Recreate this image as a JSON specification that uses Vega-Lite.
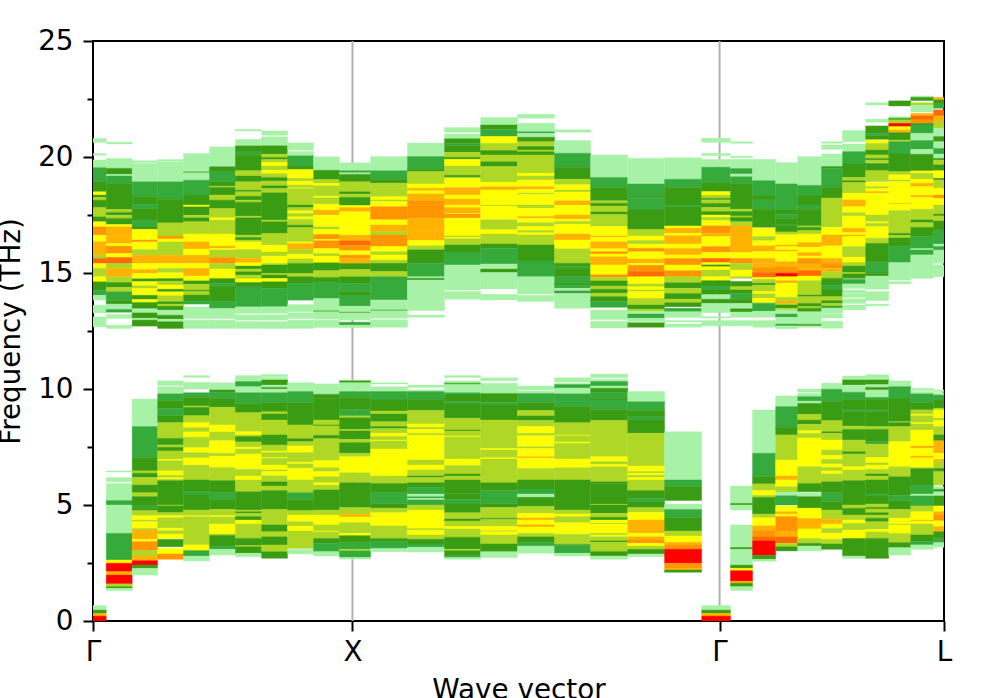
{"$schema":"https://vega.github.io/schema/vega-lite/v6.json","width":851,"height":580,"autosize":"none","padding":{"left":93,"top":41,"right":53,"bottom":77},"background":"white","view":{"stroke":"black","strokeWidth":2},
"datasets":{"cols":[{"c":0,"x0":0,"x1":0.051},{"c":1,"x0":0.051,"x1":0.151},{"c":2,"x0":0.151,"x1":0.249},{"c":3,"x0":0.249,"x1":0.349},{"c":4,"x0":0.349,"x1":0.449},{"c":5,"x0":0.449,"x1":0.549},{"c":6,"x0":0.549,"x1":0.65},{"c":7,"x0":0.65,"x1":0.75},{"c":8,"x0":0.75,"x1":0.85},{"c":9,"x0":0.85,"x1":0.95},{"c":10,"x0":0.95,"x1":1.07},{"c":11,"x0":1.07,"x1":1.212},{"c":12,"x0":1.212,"x1":1.355},{"c":13,"x0":1.355,"x1":1.494},{"c":14,"x0":1.494,"x1":1.636},{"c":15,"x0":1.636,"x1":1.779},{"c":16,"x0":1.779,"x1":1.918},{"c":17,"x0":1.918,"x1":2.061},{"c":18,"x0":2.061,"x1":2.203},{"c":19,"x0":2.203,"x1":2.346},{"c":20,"x0":2.346,"x1":2.457},{"c":21,"x0":2.457,"x1":2.542},{"c":22,"x0":2.542,"x1":2.631},{"c":23,"x0":2.631,"x1":2.716},{"c":24,"x0":2.716,"x1":2.808},{"c":25,"x0":2.808,"x1":2.889},{"c":26,"x0":2.889,"x1":2.978},{"c":27,"x0":2.978,"x1":3.067},{"c":28,"x0":3.067,"x1":3.152},{"c":29,"x0":3.152,"x1":3.24},{"c":30,"x0":3.24,"x1":3.28}],
"lines":[{"x":1},{"x":2.415}],
"cells":[
{"c":0,"t":20.8,"b":20.63,"k":"a"},{"c":0,"t":20.15,"b":20.07,"k":"a"},{"c":0,"t":19.87,"b":19.54,"k":"a"},{"c":0,"t":19.54,"b":18.93,"k":"b"},{"c":0,"t":18.93,"b":18.5,"k":"c"},{"c":0,"t":18.5,"b":18.36,"k":"e"},{"c":0,"t":18.36,"b":18.26,"k":"c"},{"c":0,"t":18.26,"b":18.14,"k":"d"},{"c":0,"t":18.14,"b":17.82,"k":"c"},{"c":0,"t":17.82,"b":17.42,"k":"d"},{"c":0,"t":17.42,"b":17.21,"k":"c"},{"c":0,"t":17.21,"b":16.99,"k":"e"},{"c":0,"t":16.99,"b":16.63,"k":"g"},{"c":0,"t":16.63,"b":16.35,"k":"e"},{"c":0,"t":16.35,"b":15.77,"k":"f"},{"c":0,"t":15.77,"b":15.63,"k":"d"},{"c":0,"t":15.63,"b":15.41,"k":"h"},{"c":0,"t":15.41,"b":15.2,"k":"e"},{"c":0,"t":15.2,"b":14.84,"k":"d"},{"c":0,"t":14.84,"b":14.62,"k":"e"},{"c":0,"t":14.62,"b":14.26,"k":"c"},{"c":0,"t":14.26,"b":14.04,"k":"b"},{"c":0,"t":14.04,"b":13.83,"k":"a"},{"c":0,"t":13.61,"b":13.28,"k":"a"},{"c":0,"t":13.11,"b":12.68,"k":"a"},
{"c":1,"t":20.64,"b":20.56,"k":"a"},{"c":1,"t":19.94,"b":19.51,"k":"a"},{"c":1,"t":19.51,"b":19.25,"k":"c"},{"c":1,"t":19.25,"b":19.18,"k":"a"},{"c":1,"t":19.18,"b":18.86,"k":"b"},{"c":1,"t":18.86,"b":17.74,"k":"c"},{"c":1,"t":17.74,"b":17.61,"k":"d"},{"c":1,"t":17.61,"b":17.49,"k":"c"},{"c":1,"t":17.49,"b":17.35,"k":"d"},{"c":1,"t":17.35,"b":17.09,"k":"c"},{"c":1,"t":17.09,"b":16.99,"k":"e"},{"c":1,"t":16.99,"b":16.56,"k":"f"},{"c":1,"t":16.56,"b":16.27,"k":"f"},{"c":1,"t":16.27,"b":16.16,"k":"e"},{"c":1,"t":16.16,"b":15.84,"k":"g"},{"c":1,"t":15.84,"b":15.67,"k":"e"},{"c":1,"t":15.67,"b":15.41,"k":"h"},{"c":1,"t":15.41,"b":15.2,"k":"d"},{"c":1,"t":15.2,"b":14.84,"k":"f"},{"c":1,"t":14.84,"b":14.59,"k":"d"},{"c":1,"t":14.59,"b":14.38,"k":"c"},{"c":1,"t":14.38,"b":14.19,"k":"d"},{"c":1,"t":14.19,"b":13.8,"k":"b"},{"c":1,"t":13.8,"b":13.66,"k":"c"},{"c":1,"t":13.66,"b":13.43,"k":"a"},{"c":1,"t":13.43,"b":13.31,"k":"b"},{"c":1,"t":13.21,"b":13.04,"k":"a"},{"c":1,"t":12.75,"b":12.61,"k":"a"},
{"c":2,"t":19.84,"b":19.75,"k":"a"},{"c":2,"t":19.72,"b":18.93,"k":"a"},{"c":2,"t":18.93,"b":18.31,"k":"b"},{"c":2,"t":18.31,"b":17.97,"k":"c"},{"c":2,"t":17.97,"b":17.78,"k":"b"},{"c":2,"t":17.78,"b":17.25,"k":"c"},{"c":2,"t":17.25,"b":17.02,"k":"b"},{"c":2,"t":17.02,"b":16.88,"k":"c"},{"c":2,"t":16.88,"b":16.42,"k":"e"},{"c":2,"t":16.42,"b":16.34,"k":"g"},{"c":2,"t":16.34,"b":16.01,"k":"e"},{"c":2,"t":16.01,"b":15.77,"k":"d"},{"c":2,"t":15.77,"b":15.41,"k":"f"},{"c":2,"t":15.41,"b":15.15,"k":"e"},{"c":2,"t":15.15,"b":14.98,"k":"f"},{"c":2,"t":14.98,"b":14.75,"k":"e"},{"c":2,"t":14.75,"b":14.63,"k":"c"},{"c":2,"t":14.63,"b":14.45,"k":"e"},{"c":2,"t":14.45,"b":14.33,"k":"d"},{"c":2,"t":14.33,"b":14.04,"k":"e"},{"c":2,"t":14.04,"b":13.86,"k":"c"},{"c":2,"t":13.86,"b":13.73,"k":"e"},{"c":2,"t":13.73,"b":13.46,"k":"c"},{"c":2,"t":13.46,"b":13.28,"k":"a"},{"c":2,"t":13.28,"b":13.05,"k":"c"},{"c":2,"t":13.05,"b":12.97,"k":"a"},{"c":2,"t":12.97,"b":12.71,"k":"c"},
{"c":3,"t":19.89,"b":19.82,"k":"a"},{"c":3,"t":19.79,"b":18.93,"k":"a"},{"c":3,"t":18.93,"b":18.18,"k":"b"},{"c":3,"t":18.18,"b":17.16,"k":"c"},{"c":3,"t":17.16,"b":16.59,"k":"d"},{"c":3,"t":16.59,"b":16.47,"k":"g"},{"c":3,"t":16.47,"b":16.34,"k":"e"},{"c":3,"t":16.34,"b":15.77,"k":"d"},{"c":3,"t":15.77,"b":15.41,"k":"f"},{"c":3,"t":15.41,"b":15.2,"k":"e"},{"c":3,"t":15.2,"b":15.01,"k":"d"},{"c":3,"t":15.01,"b":14.76,"k":"e"},{"c":3,"t":14.76,"b":14.65,"k":"c"},{"c":3,"t":14.65,"b":14.48,"k":"d"},{"c":3,"t":14.48,"b":14.3,"k":"e"},{"c":3,"t":14.3,"b":14.19,"k":"c"},{"c":3,"t":14.19,"b":14.02,"k":"e"},{"c":3,"t":14.02,"b":13.76,"k":"d"},{"c":3,"t":13.76,"b":13.66,"k":"c"},{"c":3,"t":13.66,"b":13.57,"k":"d"},{"c":3,"t":13.57,"b":13.4,"k":"c"},{"c":3,"t":13.4,"b":13.18,"k":"a"},{"c":3,"t":13.18,"b":13.01,"k":"c"},{"c":3,"t":13.01,"b":12.9,"k":"a"},{"c":3,"t":12.9,"b":12.61,"k":"c"},
{"c":4,"t":20.15,"b":19.36,"k":"a"},{"c":4,"t":19.36,"b":19.32,"k":"c"},{"c":4,"t":19.32,"b":19.0,"k":"a"},{"c":4,"t":19.0,"b":18.36,"k":"b"},{"c":4,"t":18.36,"b":17.93,"k":"c"},{"c":4,"t":17.93,"b":17.85,"k":"e"},{"c":4,"t":17.85,"b":17.49,"k":"c"},{"c":4,"t":17.49,"b":17.38,"k":"d"},{"c":4,"t":17.38,"b":17.21,"k":"c"},{"c":4,"t":17.21,"b":16.68,"k":"d"},{"c":4,"t":16.68,"b":16.34,"k":"e"},{"c":4,"t":16.34,"b":16.03,"k":"f"},{"c":4,"t":16.03,"b":15.77,"k":"e"},{"c":4,"t":15.77,"b":15.41,"k":"f"},{"c":4,"t":15.41,"b":15.2,"k":"e"},{"c":4,"t":15.2,"b":14.87,"k":"f"},{"c":4,"t":14.87,"b":14.66,"k":"e"},{"c":4,"t":14.66,"b":14.52,"k":"c"},{"c":4,"t":14.52,"b":14.26,"k":"d"},{"c":4,"t":14.26,"b":14.2,"k":"c"},{"c":4,"t":14.2,"b":14.05,"k":"d"},{"c":4,"t":14.05,"b":13.79,"k":"c"},{"c":4,"t":13.79,"b":13.66,"k":"b"},{"c":4,"t":13.54,"b":13.03,"k":"a"},{"c":4,"t":12.97,"b":12.61,"k":"a"},
{"c":5,"t":20.44,"b":19.58,"k":"a"},{"c":5,"t":19.58,"b":19.36,"k":"c"},{"c":5,"t":19.36,"b":18.93,"k":"b"},{"c":5,"t":18.93,"b":18.74,"k":"c"},{"c":5,"t":18.74,"b":18.69,"k":"d"},{"c":5,"t":18.69,"b":18.36,"k":"c"},{"c":5,"t":18.36,"b":18.14,"k":"d"},{"c":5,"t":18.14,"b":17.78,"k":"c"},{"c":5,"t":17.78,"b":17.38,"k":"d"},{"c":5,"t":17.38,"b":17.28,"k":"e"},{"c":5,"t":17.28,"b":16.68,"k":"d"},{"c":5,"t":16.68,"b":16.16,"k":"e"},{"c":5,"t":16.16,"b":16.06,"k":"f"},{"c":5,"t":16.06,"b":15.99,"k":"e"},{"c":5,"t":15.99,"b":15.67,"k":"d"},{"c":5,"t":15.67,"b":15.41,"k":"g"},{"c":5,"t":15.41,"b":15.17,"k":"d"},{"c":5,"t":15.17,"b":14.76,"k":"e"},{"c":5,"t":14.76,"b":14.55,"k":"c"},{"c":5,"t":14.55,"b":14.4,"k":"b"},{"c":5,"t":14.4,"b":13.79,"k":"c"},{"c":5,"t":13.79,"b":13.47,"k":"b"},{"c":5,"t":13.47,"b":13.03,"k":"a"},{"c":5,"t":12.97,"b":12.61,"k":"a"},
{"c":6,"t":21.19,"b":21.12,"k":"a"},{"c":6,"t":20.76,"b":20.48,"k":"a"},{"c":6,"t":20.48,"b":20.22,"k":"c"},{"c":6,"t":20.22,"b":20.08,"k":"b"},{"c":6,"t":20.08,"b":19.41,"k":"c"},{"c":6,"t":19.41,"b":19.18,"k":"d"},{"c":6,"t":19.18,"b":18.93,"k":"c"},{"c":6,"t":18.93,"b":18.57,"k":"d"},{"c":6,"t":18.57,"b":18.5,"k":"c"},{"c":6,"t":18.5,"b":18.31,"k":"d"},{"c":6,"t":18.31,"b":18.14,"k":"c"},{"c":6,"t":18.14,"b":18.05,"k":"d"},{"c":6,"t":18.05,"b":17.45,"k":"c"},{"c":6,"t":17.45,"b":17.38,"k":"d"},{"c":6,"t":17.38,"b":16.63,"k":"c"},{"c":6,"t":16.63,"b":16.53,"k":"d"},{"c":6,"t":16.53,"b":16.42,"k":"c"},{"c":6,"t":16.42,"b":16.34,"k":"d"},{"c":6,"t":16.34,"b":16.01,"k":"e"},{"c":6,"t":16.01,"b":15.63,"k":"d"},{"c":6,"t":15.63,"b":15.44,"k":"f"},{"c":6,"t":15.44,"b":15.3,"k":"e"},{"c":6,"t":15.3,"b":15.17,"k":"c"},{"c":6,"t":15.17,"b":15.05,"k":"d"},{"c":6,"t":15.05,"b":14.91,"k":"c"},{"c":6,"t":14.91,"b":14.75,"k":"d"},{"c":6,"t":14.75,"b":14.59,"k":"e"},{"c":6,"t":14.59,"b":14.4,"k":"c"},{"c":6,"t":14.4,"b":13.54,"k":"b"},{"c":6,"t":13.54,"b":13.26,"k":"a"},{"c":6,"t":13.2,"b":12.97,"k":"a"},{"c":6,"t":12.91,"b":12.61,"k":"a"},
{"c":7,"t":21.12,"b":20.94,"k":"a"},{"c":7,"t":20.87,"b":20.48,"k":"a"},{"c":7,"t":20.48,"b":20.12,"k":"c"},{"c":7,"t":20.12,"b":19.98,"k":"d"},{"c":7,"t":19.98,"b":19.89,"k":"c"},{"c":7,"t":19.89,"b":19.76,"k":"d"},{"c":7,"t":19.76,"b":19.61,"k":"e"},{"c":7,"t":19.61,"b":19.43,"k":"d"},{"c":7,"t":19.43,"b":19.29,"k":"e"},{"c":7,"t":19.29,"b":19.12,"k":"d"},{"c":7,"t":19.12,"b":18.97,"k":"c"},{"c":7,"t":18.97,"b":18.76,"k":"d"},{"c":7,"t":18.76,"b":18.64,"k":"c"},{"c":7,"t":18.64,"b":18.46,"k":"d"},{"c":7,"t":18.46,"b":17.28,"k":"c"},{"c":7,"t":17.28,"b":17.21,"k":"d"},{"c":7,"t":17.21,"b":16.7,"k":"c"},{"c":7,"t":16.7,"b":16.2,"k":"d"},{"c":7,"t":16.2,"b":15.91,"k":"e"},{"c":7,"t":15.91,"b":15.73,"k":"d"},{"c":7,"t":15.73,"b":15.41,"k":"e"},{"c":7,"t":15.41,"b":15.34,"k":"d"},{"c":7,"t":15.34,"b":14.98,"k":"c"},{"c":7,"t":14.98,"b":14.91,"k":"d"},{"c":7,"t":14.91,"b":14.76,"k":"c"},{"c":7,"t":14.76,"b":14.62,"k":"e"},{"c":7,"t":14.62,"b":14.33,"k":"c"},{"c":7,"t":14.33,"b":13.54,"k":"b"},{"c":7,"t":13.54,"b":13.26,"k":"a"},{"c":7,"t":13.2,"b":12.97,"k":"a"},{"c":7,"t":12.91,"b":12.61,"k":"a"},
{"c":8,"t":20.61,"b":20.3,"k":"a"},{"c":8,"t":20.24,"b":20.05,"k":"a"},{"c":8,"t":20.05,"b":19.61,"k":"b"},{"c":8,"t":19.61,"b":19.46,"k":"c"},{"c":8,"t":19.46,"b":19.08,"k":"e"},{"c":8,"t":19.08,"b":18.96,"k":"d"},{"c":8,"t":18.96,"b":18.79,"k":"e"},{"c":8,"t":18.79,"b":18.67,"k":"d"},{"c":8,"t":18.67,"b":18.64,"k":"e"},{"c":8,"t":18.64,"b":17.93,"k":"d"},{"c":8,"t":17.93,"b":17.82,"k":"c"},{"c":8,"t":17.82,"b":17.68,"k":"d"},{"c":8,"t":17.68,"b":17.57,"k":"e"},{"c":8,"t":17.57,"b":17.42,"k":"d"},{"c":8,"t":17.42,"b":17.32,"k":"e"},{"c":8,"t":17.32,"b":17.06,"k":"d"},{"c":8,"t":17.06,"b":16.96,"k":"c"},{"c":8,"t":16.96,"b":16.34,"k":"d"},{"c":8,"t":16.34,"b":16.27,"k":"e"},{"c":8,"t":16.27,"b":16.01,"k":"f"},{"c":8,"t":16.01,"b":15.81,"k":"d"},{"c":8,"t":15.81,"b":15.61,"k":"e"},{"c":8,"t":15.61,"b":15.41,"k":"d"},{"c":8,"t":15.41,"b":14.98,"k":"c"},{"c":8,"t":14.98,"b":14.84,"k":"d"},{"c":8,"t":14.84,"b":14.55,"k":"c"},{"c":8,"t":14.55,"b":13.83,"k":"b"},{"c":8,"t":13.64,"b":13.33,"k":"a"},{"c":8,"t":13.28,"b":13.04,"k":"a"},{"c":8,"t":12.97,"b":12.61,"k":"a"},
{"c":9,"t":20.01,"b":19.43,"k":"a"},{"c":9,"t":19.43,"b":19.03,"k":"c"},{"c":9,"t":19.03,"b":18.86,"k":"d"},{"c":9,"t":18.86,"b":18.76,"k":"e"},{"c":9,"t":18.76,"b":18.31,"k":"d"},{"c":9,"t":18.31,"b":18.24,"k":"e"},{"c":9,"t":18.24,"b":17.97,"k":"d"},{"c":9,"t":17.97,"b":17.71,"k":"e"},{"c":9,"t":17.71,"b":17.49,"k":"f"},{"c":9,"t":17.49,"b":16.99,"k":"e"},{"c":9,"t":16.99,"b":16.88,"k":"d"},{"c":9,"t":16.88,"b":16.66,"k":"e"},{"c":9,"t":16.66,"b":16.45,"k":"g"},{"c":9,"t":16.45,"b":16.39,"k":"e"},{"c":9,"t":16.39,"b":16.06,"k":"g"},{"c":9,"t":16.06,"b":15.84,"k":"e"},{"c":9,"t":15.84,"b":15.73,"k":"d"},{"c":9,"t":15.73,"b":15.44,"k":"e"},{"c":9,"t":15.44,"b":15.1,"k":"c"},{"c":9,"t":15.1,"b":14.81,"k":"d"},{"c":9,"t":14.81,"b":14.58,"k":"c"},{"c":9,"t":14.58,"b":13.9,"k":"b"},{"c":9,"t":13.9,"b":13.37,"k":"a"},{"c":9,"t":13.37,"b":13.33,"k":"c"},{"c":9,"t":13.33,"b":13.01,"k":"a"},{"c":9,"t":12.97,"b":12.65,"k":"a"},
{"c":10,"t":19.75,"b":19.41,"k":"a"},{"c":10,"t":19.41,"b":19.32,"k":"b"},{"c":10,"t":19.32,"b":19.25,"k":"a"},{"c":10,"t":19.25,"b":18.93,"k":"c"},{"c":10,"t":18.93,"b":18.5,"k":"d"},{"c":10,"t":18.5,"b":18.4,"k":"c"},{"c":10,"t":18.4,"b":18.26,"k":"d"},{"c":10,"t":18.26,"b":17.91,"k":"c"},{"c":10,"t":17.91,"b":17.82,"k":"e"},{"c":10,"t":17.82,"b":17.64,"k":"f"},{"c":10,"t":17.64,"b":16.63,"k":"e"},{"c":10,"t":16.63,"b":16.39,"k":"f"},{"c":10,"t":16.39,"b":16.2,"k":"h"},{"c":10,"t":16.2,"b":15.96,"k":"g"},{"c":10,"t":15.96,"b":15.77,"k":"e"},{"c":10,"t":15.77,"b":15.63,"k":"g"},{"c":10,"t":15.63,"b":15.41,"k":"f"},{"c":10,"t":15.41,"b":15.15,"k":"c"},{"c":10,"t":15.15,"b":14.84,"k":"d"},{"c":10,"t":14.84,"b":14.55,"k":"c"},{"c":10,"t":14.55,"b":14.19,"k":"b"},{"c":10,"t":14.19,"b":14.05,"k":"c"},{"c":10,"t":14.05,"b":13.57,"k":"b"},{"c":10,"t":13.57,"b":13.31,"k":"a"},{"c":10,"t":13.31,"b":13.28,"k":"c"},{"c":10,"t":13.28,"b":12.97,"k":"a"},{"c":10,"t":12.88,"b":12.75,"k":"b"},{"c":10,"t":12.75,"b":12.64,"k":"a"},
{"c":11,"t":20.02,"b":19.41,"k":"a"},{"c":11,"t":19.41,"b":19.04,"k":"b"},{"c":11,"t":19.04,"b":18.87,"k":"c"},{"c":11,"t":18.87,"b":18.65,"k":"d"},{"c":11,"t":18.65,"b":18.29,"k":"d"},{"c":11,"t":18.29,"b":18.15,"k":"e"},{"c":11,"t":18.15,"b":18.08,"k":"d"},{"c":11,"t":18.08,"b":17.86,"k":"e"},{"c":11,"t":17.86,"b":17.29,"k":"g"},{"c":11,"t":17.29,"b":17.07,"k":"e"},{"c":11,"t":17.07,"b":16.78,"k":"f"},{"c":11,"t":16.78,"b":16.64,"k":"d"},{"c":11,"t":16.64,"b":16.14,"k":"g"},{"c":11,"t":16.14,"b":15.92,"k":"e"},{"c":11,"t":15.92,"b":15.78,"k":"d"},{"c":11,"t":15.78,"b":15.56,"k":"e"},{"c":11,"t":15.56,"b":15.42,"k":"d"},{"c":11,"t":15.42,"b":15.06,"k":"c"},{"c":11,"t":15.06,"b":14.84,"k":"d"},{"c":11,"t":14.84,"b":13.84,"k":"b"},{"c":11,"t":13.84,"b":13.41,"k":"a"},{"c":11,"t":13.41,"b":13.37,"k":"c"},{"c":11,"t":13.37,"b":13.05,"k":"a"},{"c":11,"t":12.98,"b":12.66,"k":"a"},
{"c":12,"t":20.6,"b":20.52,"k":"a"},{"c":12,"t":20.52,"b":20.02,"k":"a"},{"c":12,"t":20.02,"b":19.47,"k":"b"},{"c":12,"t":19.47,"b":19.37,"k":"c"},{"c":12,"t":19.37,"b":18.84,"k":"d"},{"c":12,"t":18.84,"b":18.65,"k":"e"},{"c":12,"t":18.65,"b":18.55,"k":"f"},{"c":12,"t":18.55,"b":18.41,"k":"e"},{"c":12,"t":18.41,"b":18.11,"k":"f"},{"c":12,"t":18.11,"b":17.36,"k":"g"},{"c":12,"t":17.36,"b":16.78,"k":"f"},{"c":12,"t":16.78,"b":16.4,"k":"f"},{"c":12,"t":16.4,"b":16.17,"k":"e"},{"c":12,"t":16.17,"b":16.0,"k":"d"},{"c":12,"t":16.0,"b":15.42,"k":"c"},{"c":12,"t":15.42,"b":14.84,"k":"b"},{"c":12,"t":14.84,"b":14.77,"k":"a"},{"c":12,"t":14.77,"b":14.7,"k":"c"},{"c":12,"t":14.7,"b":13.38,"k":"a"},{"c":12,"t":13.19,"b":13.09,"k":"a"},
{"c":13,"t":21.27,"b":21.07,"k":"a"},{"c":13,"t":20.99,"b":20.79,"k":"a"},{"c":13,"t":20.79,"b":20.59,"k":"c"},{"c":13,"t":20.59,"b":20.5,"k":"b"},{"c":13,"t":20.5,"b":20.2,"k":"c"},{"c":13,"t":20.2,"b":19.99,"k":"d"},{"c":13,"t":19.99,"b":19.9,"k":"c"},{"c":13,"t":19.9,"b":19.61,"k":"e"},{"c":13,"t":19.61,"b":19.21,"k":"d"},{"c":13,"t":19.21,"b":19.13,"k":"c"},{"c":13,"t":19.13,"b":19.07,"k":"d"},{"c":13,"t":19.07,"b":18.68,"k":"e"},{"c":13,"t":18.68,"b":18.36,"k":"f"},{"c":13,"t":18.36,"b":18.19,"k":"e"},{"c":13,"t":18.19,"b":17.93,"k":"f"},{"c":13,"t":17.93,"b":17.82,"k":"e"},{"c":13,"t":17.82,"b":17.57,"k":"f"},{"c":13,"t":17.57,"b":17.54,"k":"e"},{"c":13,"t":17.54,"b":17.37,"k":"g"},{"c":13,"t":17.37,"b":16.6,"k":"e"},{"c":13,"t":16.6,"b":16.54,"k":"d"},{"c":13,"t":16.54,"b":16.48,"k":"e"},{"c":13,"t":16.48,"b":16.21,"k":"d"},{"c":13,"t":16.21,"b":15.91,"k":"c"},{"c":13,"t":15.91,"b":15.35,"k":"b"},{"c":13,"t":15.35,"b":14.27,"k":"a"},{"c":13,"t":14.2,"b":13.87,"k":"a"},
{"c":14,"t":21.7,"b":21.38,"k":"a"},{"c":14,"t":21.38,"b":21.2,"k":"c"},{"c":14,"t":21.2,"b":20.88,"k":"b"},{"c":14,"t":20.88,"b":20.59,"k":"e"},{"c":14,"t":20.59,"b":20.28,"k":"d"},{"c":14,"t":20.28,"b":20.09,"k":"c"},{"c":14,"t":20.09,"b":19.8,"k":"d"},{"c":14,"t":19.8,"b":19.59,"k":"c"},{"c":14,"t":19.59,"b":18.91,"k":"d"},{"c":14,"t":18.91,"b":18.72,"k":"e"},{"c":14,"t":18.72,"b":18.58,"k":"f"},{"c":14,"t":18.58,"b":17.93,"k":"e"},{"c":14,"t":17.93,"b":17.89,"k":"d"},{"c":14,"t":17.89,"b":17.29,"k":"e"},{"c":14,"t":17.29,"b":16.86,"k":"d"},{"c":14,"t":16.86,"b":16.68,"k":"e"},{"c":14,"t":16.68,"b":16.25,"k":"d"},{"c":14,"t":16.25,"b":16.07,"k":"c"},{"c":14,"t":16.07,"b":15.39,"k":"b"},{"c":14,"t":15.39,"b":15.17,"k":"a"},{"c":14,"t":15.17,"b":15.02,"k":"c"},{"c":14,"t":15.02,"b":14.31,"k":"a"},{"c":14,"t":14.08,"b":13.84,"k":"a"},
{"c":15,"t":21.84,"b":21.67,"k":"a"},{"c":15,"t":21.45,"b":21.09,"k":"a"},{"c":15,"t":21.09,"b":21.02,"k":"b"},{"c":15,"t":21.02,"b":20.85,"k":"a"},{"c":15,"t":20.85,"b":20.66,"k":"c"},{"c":15,"t":20.66,"b":20.45,"k":"d"},{"c":15,"t":20.45,"b":20.3,"k":"c"},{"c":15,"t":20.3,"b":20.23,"k":"d"},{"c":15,"t":20.23,"b":20.09,"k":"c"},{"c":15,"t":20.09,"b":19.3,"k":"d"},{"c":15,"t":19.3,"b":19.18,"k":"e"},{"c":15,"t":19.18,"b":19.01,"k":"d"},{"c":15,"t":19.01,"b":18.72,"k":"e"},{"c":15,"t":18.72,"b":18.61,"k":"f"},{"c":15,"t":18.61,"b":18.44,"k":"e"},{"c":15,"t":18.44,"b":18.38,"k":"d"},{"c":15,"t":18.38,"b":17.93,"k":"e"},{"c":15,"t":17.93,"b":17.79,"k":"d"},{"c":15,"t":17.79,"b":17.43,"k":"e"},{"c":15,"t":17.43,"b":17.36,"k":"f"},{"c":15,"t":17.36,"b":17.17,"k":"e"},{"c":15,"t":17.17,"b":17.0,"k":"d"},{"c":15,"t":17.0,"b":16.83,"k":"e"},{"c":15,"t":16.83,"b":16.74,"k":"d"},{"c":15,"t":16.74,"b":16.64,"k":"e"},{"c":15,"t":16.64,"b":16.21,"k":"d"},{"c":15,"t":16.21,"b":15.52,"k":"c"},{"c":15,"t":15.52,"b":14.84,"k":"b"},{"c":15,"t":14.84,"b":14.1,"k":"a"},{"c":15,"t":14.04,"b":13.77,"k":"a"},
{"c":16,"t":21.17,"b":21.07,"k":"a"},{"c":16,"t":20.71,"b":20.16,"k":"a"},{"c":16,"t":20.16,"b":19.56,"k":"b"},{"c":16,"t":19.56,"b":19.04,"k":"c"},{"c":16,"t":19.04,"b":18.8,"k":"d"},{"c":16,"t":18.8,"b":18.58,"k":"e"},{"c":16,"t":18.58,"b":18.49,"k":"d"},{"c":16,"t":18.49,"b":18.11,"k":"e"},{"c":16,"t":18.11,"b":17.92,"k":"f"},{"c":16,"t":17.92,"b":17.5,"k":"e"},{"c":16,"t":17.5,"b":17.32,"k":"f"},{"c":16,"t":17.32,"b":17.22,"k":"e"},{"c":16,"t":17.22,"b":17.11,"k":"d"},{"c":16,"t":17.11,"b":16.68,"k":"e"},{"c":16,"t":16.68,"b":16.42,"k":"f"},{"c":16,"t":16.42,"b":16.04,"k":"e"},{"c":16,"t":16.04,"b":15.42,"k":"d"},{"c":16,"t":15.42,"b":15.27,"k":"c"},{"c":16,"t":15.27,"b":15.2,"k":"b"},{"c":16,"t":15.2,"b":14.84,"k":"c"},{"c":16,"t":14.84,"b":14.53,"k":"b"},{"c":16,"t":14.53,"b":14.47,"k":"c"},{"c":16,"t":14.47,"b":14.34,"k":"b"},{"c":16,"t":14.34,"b":14.27,"k":"a"},{"c":16,"t":14.24,"b":14.13,"k":"b"},{"c":16,"t":14.1,"b":13.48,"k":"a"},
{"c":17,"t":20.09,"b":19.12,"k":"a"},{"c":17,"t":19.12,"b":18.69,"k":"b"},{"c":17,"t":18.69,"b":18.11,"k":"c"},{"c":17,"t":18.11,"b":18.01,"k":"d"},{"c":17,"t":18.01,"b":17.89,"k":"c"},{"c":17,"t":17.89,"b":17.63,"k":"d"},{"c":17,"t":17.63,"b":17.52,"k":"c"},{"c":17,"t":17.52,"b":17.0,"k":"d"},{"c":17,"t":17.0,"b":16.6,"k":"e"},{"c":17,"t":16.6,"b":16.54,"k":"f"},{"c":17,"t":16.54,"b":16.35,"k":"e"},{"c":17,"t":16.35,"b":16.04,"k":"f"},{"c":17,"t":16.04,"b":15.92,"k":"e"},{"c":17,"t":15.92,"b":15.82,"k":"g"},{"c":17,"t":15.82,"b":15.7,"k":"e"},{"c":17,"t":15.7,"b":15.35,"k":"f"},{"c":17,"t":15.35,"b":14.92,"k":"e"},{"c":17,"t":14.92,"b":14.81,"k":"g"},{"c":17,"t":14.81,"b":14.66,"k":"d"},{"c":17,"t":14.66,"b":14.44,"k":"c"},{"c":17,"t":14.44,"b":14.3,"k":"d"},{"c":17,"t":14.3,"b":14.13,"k":"c"},{"c":17,"t":14.13,"b":13.98,"k":"d"},{"c":17,"t":13.98,"b":13.77,"k":"c"},{"c":17,"t":13.77,"b":13.52,"k":"b"},{"c":17,"t":13.41,"b":13.0,"k":"a"},{"c":17,"t":12.92,"b":12.63,"k":"a"},
{"c":18,"t":19.95,"b":18.84,"k":"a"},{"c":18,"t":18.84,"b":18.26,"k":"b"},{"c":18,"t":18.26,"b":18.22,"k":"c"},{"c":18,"t":18.22,"b":17.72,"k":"b"},{"c":18,"t":17.72,"b":16.88,"k":"c"},{"c":18,"t":16.88,"b":16.6,"k":"d"},{"c":18,"t":16.6,"b":16.4,"k":"e"},{"c":18,"t":16.4,"b":16.25,"k":"d"},{"c":18,"t":16.25,"b":16.07,"k":"e"},{"c":18,"t":16.07,"b":15.92,"k":"g"},{"c":18,"t":15.92,"b":15.6,"k":"e"},{"c":18,"t":15.6,"b":15.42,"k":"f"},{"c":18,"t":15.42,"b":15.33,"k":"e"},{"c":18,"t":15.33,"b":15.06,"k":"g"},{"c":18,"t":15.06,"b":14.84,"k":"h"},{"c":18,"t":14.84,"b":14.53,"k":"e"},{"c":18,"t":14.53,"b":14.41,"k":"d"},{"c":18,"t":14.41,"b":14.27,"k":"e"},{"c":18,"t":14.27,"b":14.2,"k":"d"},{"c":18,"t":14.2,"b":13.91,"k":"e"},{"c":18,"t":13.91,"b":13.62,"k":"d"},{"c":18,"t":13.62,"b":13.44,"k":"c"},{"c":18,"t":13.44,"b":13.34,"k":"d"},{"c":18,"t":13.34,"b":13.23,"k":"a"},{"c":18,"t":13.23,"b":13.05,"k":"b"},{"c":18,"t":13.05,"b":12.9,"k":"a"},{"c":18,"t":12.86,"b":12.66,"k":"c"},
{"c":19,"t":19.97,"b":19.04,"k":"a"},{"c":19,"t":19.04,"b":18.69,"k":"b"},{"c":19,"t":18.69,"b":18.36,"k":"c"},{"c":19,"t":18.36,"b":17.93,"k":"c"},{"c":19,"t":17.93,"b":17.86,"k":"b"},{"c":19,"t":17.86,"b":17.03,"k":"c"},{"c":19,"t":17.03,"b":16.93,"k":"e"},{"c":19,"t":16.93,"b":16.71,"k":"f"},{"c":19,"t":16.71,"b":16.61,"k":"e"},{"c":19,"t":16.61,"b":16.25,"k":"f"},{"c":19,"t":16.25,"b":16.06,"k":"e"},{"c":19,"t":16.06,"b":15.78,"k":"f"},{"c":19,"t":15.78,"b":15.63,"k":"e"},{"c":19,"t":15.63,"b":15.35,"k":"g"},{"c":19,"t":15.35,"b":15.1,"k":"e"},{"c":19,"t":15.1,"b":14.84,"k":"g"},{"c":19,"t":14.84,"b":14.58,"k":"d"},{"c":19,"t":14.58,"b":14.34,"k":"c"},{"c":19,"t":14.34,"b":14.12,"k":"d"},{"c":19,"t":14.12,"b":13.87,"k":"c"},{"c":19,"t":13.87,"b":13.72,"k":"d"},{"c":19,"t":13.72,"b":13.55,"k":"c"},{"c":19,"t":13.48,"b":13.33,"k":"b"},{"c":19,"t":13.33,"b":13.08,"k":"a"},{"c":19,"t":12.95,"b":12.89,"k":"a"},{"c":19,"t":12.8,"b":12.66,"k":"a"},
{"c":20,"t":20.81,"b":20.63,"k":"a"},{"c":20,"t":20.16,"b":20.06,"k":"a"},{"c":20,"t":19.9,"b":19.56,"k":"a"},{"c":20,"t":19.56,"b":18.9,"k":"b"},{"c":20,"t":18.9,"b":18.51,"k":"c"},{"c":20,"t":18.51,"b":18.36,"k":"e"},{"c":20,"t":18.36,"b":18.22,"k":"d"},{"c":20,"t":18.22,"b":18.15,"k":"c"},{"c":20,"t":18.15,"b":18.0,"k":"d"},{"c":20,"t":18.0,"b":17.83,"k":"c"},{"c":20,"t":17.83,"b":17.65,"k":"d"},{"c":20,"t":17.65,"b":17.5,"k":"c"},{"c":20,"t":17.5,"b":17.4,"k":"e"},{"c":20,"t":17.4,"b":17.26,"k":"d"},{"c":20,"t":17.26,"b":17.03,"k":"e"},{"c":20,"t":17.03,"b":16.71,"k":"g"},{"c":20,"t":16.71,"b":16.57,"k":"f"},{"c":20,"t":16.57,"b":16.14,"k":"e"},{"c":20,"t":16.14,"b":15.89,"k":"g"},{"c":20,"t":15.89,"b":15.63,"k":"e"},{"c":20,"t":15.63,"b":15.45,"k":"h"},{"c":20,"t":15.45,"b":15.35,"k":"e"},{"c":20,"t":15.35,"b":15.27,"k":"c"},{"c":20,"t":15.27,"b":15.13,"k":"e"},{"c":20,"t":15.13,"b":14.84,"k":"d"},{"c":20,"t":14.84,"b":14.67,"k":"e"},{"c":20,"t":14.67,"b":14.44,"k":"c"},{"c":20,"t":14.44,"b":14.27,"k":"b"},{"c":20,"t":14.27,"b":14.07,"k":"c"},{"c":20,"t":14.07,"b":13.87,"k":"a"},{"c":20,"t":13.87,"b":13.69,"k":"c"},{"c":20,"t":13.69,"b":13.29,"k":"a"},{"c":20,"t":13.12,"b":13.06,"k":"a"},{"c":20,"t":12.95,"b":12.72,"k":"a"},
{"c":21,"t":20.66,"b":20.59,"k":"a"},{"c":21,"t":20.04,"b":19.97,"k":"a"},{"c":21,"t":19.9,"b":19.5,"k":"a"},{"c":21,"t":19.5,"b":19.27,"k":"b"},{"c":21,"t":19.27,"b":19.15,"k":"a"},{"c":21,"t":19.15,"b":18.84,"k":"b"},{"c":21,"t":18.84,"b":17.75,"k":"c"},{"c":21,"t":17.75,"b":17.65,"k":"d"},{"c":21,"t":17.65,"b":17.46,"k":"c"},{"c":21,"t":17.46,"b":17.4,"k":"d"},{"c":21,"t":17.4,"b":17.21,"k":"c"},{"c":21,"t":17.21,"b":17.03,"k":"d"},{"c":21,"t":17.03,"b":15.88,"k":"f"},{"c":21,"t":15.88,"b":15.63,"k":"e"},{"c":21,"t":15.63,"b":15.42,"k":"g"},{"c":21,"t":15.42,"b":15.13,"k":"d"},{"c":21,"t":15.13,"b":14.84,"k":"e"},{"c":21,"t":14.84,"b":14.77,"k":"d"},{"c":21,"t":14.64,"b":14.41,"k":"c"},{"c":21,"t":14.41,"b":14.27,"k":"d"},{"c":21,"t":14.27,"b":14.12,"k":"c"},{"c":21,"t":14.12,"b":13.87,"k":"b"},{"c":21,"t":13.87,"b":13.69,"k":"c"},{"c":21,"t":13.69,"b":13.46,"k":"a"},{"c":21,"t":13.46,"b":13.32,"k":"c"},{"c":21,"t":13.32,"b":13.09,"k":"a"},{"c":21,"t":12.95,"b":12.72,"k":"a"},
{"c":22,"t":19.9,"b":18.98,"k":"a"},{"c":22,"t":18.98,"b":18.32,"k":"b"},{"c":22,"t":18.32,"b":18.15,"k":"c"},{"c":22,"t":18.15,"b":17.75,"k":"b"},{"c":22,"t":17.75,"b":16.97,"k":"c"},{"c":22,"t":16.93,"b":16.57,"k":"e"},{"c":22,"t":16.57,"b":16.39,"k":"d"},{"c":22,"t":16.39,"b":16.17,"k":"e"},{"c":22,"t":16.17,"b":15.92,"k":"f"},{"c":22,"t":15.92,"b":15.63,"k":"e"},{"c":22,"t":15.63,"b":15.42,"k":"f"},{"c":22,"t":15.42,"b":15.24,"k":"f"},{"c":22,"t":15.24,"b":15.02,"k":"g"},{"c":22,"t":15.02,"b":14.81,"k":"h"},{"c":22,"t":14.81,"b":14.73,"k":"e"},{"c":22,"t":14.73,"b":14.56,"k":"d"},{"c":22,"t":14.56,"b":14.48,"k":"c"},{"c":22,"t":14.48,"b":14.2,"k":"d"},{"c":22,"t":14.2,"b":14.1,"k":"e"},{"c":22,"t":14.1,"b":13.91,"k":"d"},{"c":22,"t":13.91,"b":13.72,"k":"e"},{"c":22,"t":13.72,"b":13.69,"k":"d"},{"c":22,"t":13.69,"b":13.35,"k":"b"},{"c":22,"t":13.35,"b":13.09,"k":"a"},{"c":22,"t":12.95,"b":12.66,"k":"a"},
{"c":23,"t":19.76,"b":18.84,"k":"a"},{"c":23,"t":18.84,"b":17.72,"k":"b"},{"c":23,"t":17.72,"b":17.54,"k":"c"},{"c":23,"t":17.54,"b":17.36,"k":"b"},{"c":23,"t":17.36,"b":17.11,"k":"c"},{"c":23,"t":17.11,"b":17.06,"k":"b"},{"c":23,"t":17.06,"b":16.77,"k":"c"},{"c":23,"t":16.77,"b":16.65,"k":"d"},{"c":23,"t":16.65,"b":16.21,"k":"e"},{"c":23,"t":16.21,"b":16.14,"k":"f"},{"c":23,"t":16.14,"b":15.99,"k":"e"},{"c":23,"t":15.99,"b":15.92,"k":"f"},{"c":23,"t":15.92,"b":15.49,"k":"e"},{"c":23,"t":15.49,"b":15.27,"k":"f"},{"c":23,"t":15.27,"b":14.99,"k":"g"},{"c":23,"t":14.99,"b":14.84,"k":"r"},{"c":23,"t":14.84,"b":14.67,"k":"e"},{"c":23,"t":14.67,"b":14.56,"k":"f"},{"c":23,"t":14.56,"b":13.95,"k":"e"},{"c":23,"t":13.95,"b":13.81,"k":"d"},{"c":23,"t":13.81,"b":13.69,"k":"f"},{"c":23,"t":13.69,"b":13.62,"k":"d"},{"c":23,"t":13.62,"b":13.48,"k":"c"},{"c":23,"t":13.48,"b":13.41,"k":"d"},{"c":23,"t":13.41,"b":13.23,"k":"a"},{"c":23,"t":13.23,"b":13.09,"k":"b"},{"c":23,"t":13.09,"b":12.8,"k":"a"},{"c":23,"t":12.8,"b":12.72,"k":"b"},{"c":23,"t":12.72,"b":12.6,"k":"a"},
{"c":24,"t":20.02,"b":18.78,"k":"a"},{"c":24,"t":18.78,"b":18.32,"k":"b"},{"c":24,"t":18.32,"b":17.93,"k":"c"},{"c":24,"t":17.93,"b":17.75,"k":"b"},{"c":24,"t":17.75,"b":17.03,"k":"c"},{"c":24,"t":17.03,"b":16.97,"k":"d"},{"c":24,"t":16.97,"b":16.83,"k":"c"},{"c":24,"t":16.83,"b":16.68,"k":"d"},{"c":24,"t":16.68,"b":16.31,"k":"e"},{"c":24,"t":16.31,"b":16.11,"k":"f"},{"c":24,"t":16.11,"b":15.88,"k":"e"},{"c":24,"t":15.88,"b":15.73,"k":"f"},{"c":24,"t":15.73,"b":15.63,"k":"e"},{"c":24,"t":15.63,"b":15.39,"k":"g"},{"c":24,"t":15.39,"b":15.1,"k":"f"},{"c":24,"t":15.1,"b":14.87,"k":"h"},{"c":24,"t":14.87,"b":14.67,"k":"e"},{"c":24,"t":14.67,"b":14.05,"k":"d"},{"c":24,"t":14.05,"b":13.98,"k":"c"},{"c":24,"t":13.98,"b":13.69,"k":"d"},{"c":24,"t":13.69,"b":13.55,"k":"c"},{"c":24,"t":13.55,"b":13.48,"k":"d"},{"c":24,"t":13.48,"b":13.33,"k":"c"},{"c":24,"t":13.33,"b":12.79,"k":"a"},{"c":24,"t":12.79,"b":12.72,"k":"c"},{"c":24,"t":12.72,"b":12.66,"k":"a"},
{"c":25,"t":20.66,"b":20.59,"k":"a"},{"c":25,"t":20.52,"b":20.33,"k":"a"},{"c":25,"t":20.13,"b":19.59,"k":"a"},{"c":25,"t":19.59,"b":19.52,"k":"c"},{"c":25,"t":19.52,"b":18.69,"k":"b"},{"c":25,"t":18.69,"b":18.23,"k":"c"},{"c":25,"t":18.23,"b":16.97,"k":"d"},{"c":25,"t":16.97,"b":16.64,"k":"e"},{"c":25,"t":16.64,"b":16.17,"k":"f"},{"c":25,"t":16.17,"b":15.63,"k":"e"},{"c":25,"t":15.63,"b":15.42,"k":"f"},{"c":25,"t":15.42,"b":15.2,"k":"g"},{"c":25,"t":15.2,"b":15.06,"k":"f"},{"c":25,"t":15.06,"b":14.77,"k":"d"},{"c":25,"t":14.77,"b":14.48,"k":"c"},{"c":25,"t":14.48,"b":14.27,"k":"b"},{"c":25,"t":14.27,"b":13.98,"k":"c"},{"c":25,"t":13.98,"b":13.81,"k":"d"},{"c":25,"t":13.81,"b":13.69,"k":"c"},{"c":25,"t":13.69,"b":13.58,"k":"d"},{"c":25,"t":13.58,"b":13.49,"k":"b"},{"c":25,"t":13.49,"b":13.26,"k":"a"},{"c":25,"t":13.23,"b":13.06,"k":"a"},{"c":25,"t":12.92,"b":12.62,"k":"a"},
{"c":26,"t":21.14,"b":20.66,"k":"a"},{"c":26,"t":20.56,"b":20.23,"k":"a"},{"c":26,"t":20.23,"b":19.7,"k":"b"},{"c":26,"t":19.7,"b":19.12,"k":"c"},{"c":26,"t":19.12,"b":18.98,"k":"d"},{"c":26,"t":18.98,"b":18.9,"k":"c"},{"c":26,"t":18.9,"b":18.44,"k":"d"},{"c":26,"t":18.44,"b":18.15,"k":"e"},{"c":26,"t":18.15,"b":17.86,"k":"f"},{"c":26,"t":17.86,"b":17.6,"k":"e"},{"c":26,"t":17.6,"b":17.46,"k":"d"},{"c":26,"t":17.46,"b":16.93,"k":"e"},{"c":26,"t":16.93,"b":16.75,"k":"f"},{"c":26,"t":16.75,"b":16.64,"k":"e"},{"c":26,"t":16.64,"b":16.57,"k":"f"},{"c":26,"t":16.57,"b":16.14,"k":"e"},{"c":26,"t":16.14,"b":15.68,"k":"d"},{"c":26,"t":15.68,"b":15.45,"k":"e"},{"c":26,"t":15.45,"b":15.3,"k":"d"},{"c":26,"t":15.3,"b":15.02,"k":"c"},{"c":26,"t":15.02,"b":14.96,"k":"d"},{"c":26,"t":14.96,"b":14.77,"k":"c"},{"c":26,"t":14.73,"b":14.53,"k":"b"},{"c":26,"t":14.53,"b":14.33,"k":"a"},{"c":26,"t":14.27,"b":14.12,"k":"a"},{"c":26,"t":14.1,"b":13.95,"k":"a"},{"c":26,"t":13.89,"b":13.69,"k":"a"},{"c":26,"t":13.62,"b":13.41,"k":"a"},
{"c":27,"t":22.34,"b":22.24,"k":"a"},{"c":27,"t":21.63,"b":21.5,"k":"a"},{"c":27,"t":21.34,"b":21.02,"k":"c"},{"c":27,"t":21.02,"b":20.92,"k":"b"},{"c":27,"t":20.92,"b":20.76,"k":"c"},{"c":27,"t":20.73,"b":20.59,"k":"e"},{"c":27,"t":20.59,"b":20.3,"k":"d"},{"c":27,"t":20.3,"b":20.09,"k":"c"},{"c":27,"t":20.09,"b":19.94,"k":"d"},{"c":27,"t":19.94,"b":19.87,"k":"c"},{"c":27,"t":19.87,"b":19.76,"k":"d"},{"c":27,"t":19.73,"b":19.41,"k":"c"},{"c":27,"t":19.41,"b":18.94,"k":"d"},{"c":27,"t":18.9,"b":18.72,"k":"e"},{"c":27,"t":18.72,"b":18.64,"k":"d"},{"c":27,"t":18.64,"b":18.51,"k":"e"},{"c":27,"t":18.51,"b":18.44,"k":"f"},{"c":27,"t":18.44,"b":17.5,"k":"e"},{"c":27,"t":17.5,"b":17.21,"k":"d"},{"c":27,"t":17.21,"b":17.14,"k":"e"},{"c":27,"t":17.14,"b":17.0,"k":"d"},{"c":27,"t":17.0,"b":16.5,"k":"e"},{"c":27,"t":16.5,"b":16.28,"k":"d"},{"c":27,"t":16.28,"b":15.45,"k":"c"},{"c":27,"t":15.45,"b":14.99,"k":"b"},{"c":27,"t":14.99,"b":14.87,"k":"c"},{"c":27,"t":14.87,"b":14.3,"k":"a"},{"c":27,"t":14.2,"b":13.81,"k":"a"},{"c":27,"t":13.66,"b":13.58,"k":"a"},
{"c":28,"t":22.42,"b":22.2,"k":"c"},{"c":28,"t":21.74,"b":21.67,"k":"a"},{"c":28,"t":21.67,"b":21.6,"k":"c"},{"c":28,"t":21.6,"b":21.45,"k":"d"},{"c":28,"t":21.45,"b":21.31,"k":"r"},{"c":28,"t":21.31,"b":21.17,"k":"e"},{"c":28,"t":21.17,"b":21.05,"k":"f"},{"c":28,"t":21.05,"b":20.73,"k":"c"},{"c":28,"t":20.73,"b":20.66,"k":"d"},{"c":28,"t":20.66,"b":20.13,"k":"b"},{"c":28,"t":20.13,"b":19.37,"k":"c"},{"c":28,"t":19.37,"b":19.23,"k":"d"},{"c":28,"t":19.23,"b":19.01,"k":"e"},{"c":28,"t":19.01,"b":18.94,"k":"d"},{"c":28,"t":18.94,"b":18.0,"k":"e"},{"c":28,"t":18.0,"b":17.97,"k":"f"},{"c":28,"t":17.97,"b":17.69,"k":"e"},{"c":28,"t":17.69,"b":16.71,"k":"d"},{"c":28,"t":16.71,"b":16.62,"k":"c"},{"c":28,"t":16.62,"b":16.51,"k":"d"},{"c":28,"t":16.51,"b":16.16,"k":"c"},{"c":28,"t":16.16,"b":15.45,"k":"b"},{"c":28,"t":15.45,"b":14.7,"k":"a"},{"c":28,"t":14.63,"b":14.53,"k":"a"},
{"c":29,"t":22.63,"b":22.57,"k":"a"},{"c":29,"t":22.57,"b":22.43,"k":"c"},{"c":29,"t":22.34,"b":22.23,"k":"d"},{"c":29,"t":22.23,"b":21.94,"k":"a"},{"c":29,"t":21.88,"b":21.77,"k":"f"},{"c":29,"t":21.77,"b":21.6,"k":"h"},{"c":29,"t":21.6,"b":21.45,"k":"g"},{"c":29,"t":21.45,"b":21.38,"k":"c"},{"c":29,"t":21.38,"b":21.02,"k":"b"},{"c":29,"t":21.02,"b":20.71,"k":"a"},{"c":29,"t":20.71,"b":20.33,"k":"b"},{"c":29,"t":20.33,"b":20.12,"k":"a"},{"c":29,"t":20.12,"b":19.4,"k":"c"},{"c":29,"t":19.4,"b":19.3,"k":"e"},{"c":29,"t":19.3,"b":19.04,"k":"d"},{"c":29,"t":19.04,"b":18.87,"k":"e"},{"c":29,"t":18.87,"b":18.72,"k":"f"},{"c":29,"t":18.72,"b":18.35,"k":"e"},{"c":29,"t":18.35,"b":18.26,"k":"f"},{"c":29,"t":18.26,"b":17.75,"k":"e"},{"c":29,"t":17.75,"b":17.29,"k":"d"},{"c":29,"t":17.29,"b":17.17,"k":"c"},{"c":29,"t":17.17,"b":16.97,"k":"d"},{"c":29,"t":16.97,"b":16.57,"k":"c"},{"c":29,"t":16.57,"b":16.05,"k":"b"},{"c":29,"t":16.05,"b":15.99,"k":"a"},{"c":29,"t":15.99,"b":15.78,"k":"b"},{"c":29,"t":15.78,"b":14.77,"k":"a"},
{"c":30,"t":22.57,"b":22.46,"k":"f"},{"c":30,"t":22.46,"b":22.29,"k":"c"},{"c":30,"t":22.29,"b":22.1,"k":"b"},{"c":30,"t":22.03,"b":21.77,"k":"h"},{"c":30,"t":21.77,"b":21.52,"k":"f"},{"c":30,"t":21.52,"b":21.24,"k":"d"},{"c":30,"t":21.24,"b":20.88,"k":"a"},{"c":30,"t":20.88,"b":20.66,"k":"c"},{"c":30,"t":20.66,"b":20.37,"k":"a"},{"c":30,"t":20.37,"b":20.13,"k":"b"},{"c":30,"t":20.13,"b":19.94,"k":"a"},{"c":30,"t":19.94,"b":19.87,"k":"c"},{"c":30,"t":19.87,"b":19.66,"k":"d"},{"c":30,"t":19.66,"b":19.41,"k":"c"},{"c":30,"t":19.41,"b":19.08,"k":"e"},{"c":30,"t":19.08,"b":19.01,"k":"c"},{"c":30,"t":19.01,"b":18.65,"k":"d"},{"c":30,"t":18.65,"b":18.36,"k":"e"},{"c":30,"t":18.36,"b":18.22,"k":"g"},{"c":30,"t":18.22,"b":17.93,"k":"e"},{"c":30,"t":17.93,"b":17.54,"k":"d"},{"c":30,"t":17.54,"b":17.46,"k":"c"},{"c":30,"t":17.46,"b":17.24,"k":"d"},{"c":30,"t":17.24,"b":16.85,"k":"c"},{"c":30,"t":16.85,"b":16.25,"k":"b"},{"c":30,"t":16.25,"b":16.14,"k":"a"},{"c":30,"t":16.14,"b":15.99,"k":"b"},{"c":30,"t":15.99,"b":15.42,"k":"a"},{"c":30,"t":15.35,"b":14.84,"k":"a"},
{"c":0,"t":0.67,"b":0.47,"k":"a"},{"c":0,"t":0.47,"b":0.33,"k":"c"},{"c":0,"t":0.33,"b":0.21,"k":"f"},{"c":0,"t":0.21,"b":0,"k":"r"},
{"c":1,"t":6.47,"b":6.42,"k":"a"},{"c":1,"t":6.18,"b":6.0,"k":"a"},{"c":1,"t":5.93,"b":5.19,"k":"a"},{"c":1,"t":5.19,"b":5.0,"k":"b"},{"c":1,"t":5.0,"b":3.78,"k":"a"},{"c":1,"t":3.78,"b":2.63,"k":"b"},{"c":1,"t":2.63,"b":2.49,"k":"e"},{"c":1,"t":2.49,"b":2.13,"k":"r"},{"c":1,"t":2.13,"b":1.98,"k":"f"},{"c":1,"t":1.98,"b":1.6,"k":"r"},{"c":1,"t":1.6,"b":1.48,"k":"d"},{"c":1,"t":1.48,"b":1.41,"k":"c"},{"c":1,"t":1.41,"b":1.31,"k":"a"},
{"c":2,"t":9.57,"b":8.38,"k":"a"},{"c":2,"t":8.38,"b":7.05,"k":"b"},{"c":2,"t":7.05,"b":6.47,"k":"c"},{"c":2,"t":6.47,"b":6.37,"k":"d"},{"c":2,"t":6.37,"b":6.19,"k":"c"},{"c":2,"t":6.19,"b":5.86,"k":"d"},{"c":2,"t":5.86,"b":5.53,"k":"c"},{"c":2,"t":5.53,"b":5.36,"k":"d"},{"c":2,"t":5.36,"b":4.96,"k":"c"},{"c":2,"t":4.96,"b":4.86,"k":"b"},{"c":2,"t":4.86,"b":4.76,"k":"c"},{"c":2,"t":4.76,"b":4.54,"k":"d"},{"c":2,"t":4.54,"b":4.35,"k":"e"},{"c":2,"t":4.35,"b":4.28,"k":"d"},{"c":2,"t":4.28,"b":3.99,"k":"e"},{"c":2,"t":3.99,"b":3.92,"k":"d"},{"c":2,"t":3.92,"b":3.52,"k":"f"},{"c":2,"t":3.52,"b":3.42,"k":"e"},{"c":2,"t":3.42,"b":3.03,"k":"g"},{"c":2,"t":3.03,"b":2.8,"k":"d"},{"c":2,"t":2.8,"b":2.6,"k":"f"},{"c":2,"t":2.6,"b":2.41,"k":"r"},{"c":2,"t":2.41,"b":2.27,"k":"c"},{"c":2,"t":2.27,"b":1.98,"k":"a"},
{"c":3,"t":10.35,"b":10.15,"k":"a"},{"c":3,"t":10.1,"b":9.79,"k":"a"},{"c":3,"t":9.79,"b":9.5,"k":"b"},{"c":3,"t":9.5,"b":9.17,"k":"c"},{"c":3,"t":9.17,"b":8.85,"k":"b"},{"c":3,"t":8.85,"b":8.55,"k":"c"},{"c":3,"t":8.55,"b":7.87,"k":"d"},{"c":3,"t":7.87,"b":7.59,"k":"c"},{"c":3,"t":7.59,"b":7.49,"k":"d"},{"c":3,"t":7.49,"b":7.33,"k":"c"},{"c":3,"t":7.33,"b":6.97,"k":"d"},{"c":3,"t":6.97,"b":6.91,"k":"e"},{"c":3,"t":6.91,"b":6.47,"k":"d"},{"c":3,"t":6.47,"b":6.28,"k":"e"},{"c":3,"t":6.28,"b":6.18,"k":"d"},{"c":3,"t":6.18,"b":6.11,"k":"e"},{"c":3,"t":6.11,"b":6.05,"k":"d"},{"c":3,"t":6.05,"b":5.0,"k":"c"},{"c":3,"t":5.0,"b":4.96,"k":"d"},{"c":3,"t":4.96,"b":4.67,"k":"c"},{"c":3,"t":4.67,"b":4.54,"k":"d"},{"c":3,"t":4.54,"b":4.45,"k":"e"},{"c":3,"t":4.45,"b":4.0,"k":"d"},{"c":3,"t":4.0,"b":3.89,"k":"e"},{"c":3,"t":3.89,"b":3.75,"k":"d"},{"c":3,"t":3.75,"b":3.56,"k":"e"},{"c":3,"t":3.52,"b":3.2,"k":"c"},{"c":3,"t":3.13,"b":2.89,"k":"e"},{"c":3,"t":2.89,"b":2.66,"k":"g"},
{"c":4,"t":10.58,"b":10.5,"k":"a"},{"c":4,"t":10.29,"b":9.99,"k":"a"},{"c":4,"t":9.84,"b":9.64,"k":"b"},{"c":4,"t":9.64,"b":9.27,"k":"c"},{"c":4,"t":9.27,"b":9.21,"k":"d"},{"c":4,"t":9.21,"b":8.85,"k":"c"},{"c":4,"t":8.85,"b":8.55,"k":"d"},{"c":4,"t":8.55,"b":8.33,"k":"e"},{"c":4,"t":8.33,"b":8.15,"k":"d"},{"c":4,"t":8.15,"b":7.92,"k":"e"},{"c":4,"t":7.92,"b":7.47,"k":"d"},{"c":4,"t":7.47,"b":7.26,"k":"e"},{"c":4,"t":7.26,"b":7.03,"k":"d"},{"c":4,"t":7.03,"b":6.72,"k":"e"},{"c":4,"t":6.72,"b":6.08,"k":"d"},{"c":4,"t":6.08,"b":5.57,"k":"c"},{"c":4,"t":5.57,"b":5.43,"k":"b"},{"c":4,"t":5.43,"b":4.78,"k":"c"},{"c":4,"t":4.78,"b":4.54,"k":"d"},{"c":4,"t":4.54,"b":4.5,"k":"e"},{"c":4,"t":4.5,"b":3.28,"k":"d"},{"c":4,"t":3.28,"b":3.06,"k":"e"},{"c":4,"t":3.06,"b":3.02,"k":"d"},{"c":4,"t":3.02,"b":2.8,"k":"b"},{"c":4,"t":2.8,"b":2.59,"k":"a"},
{"c":5,"t":10.27,"b":9.96,"k":"a"},{"c":5,"t":9.96,"b":9.84,"k":"c"},{"c":5,"t":9.84,"b":9.6,"k":"b"},{"c":5,"t":9.6,"b":9.21,"k":"c"},{"c":5,"t":9.21,"b":8.45,"k":"d"},{"c":5,"t":8.45,"b":8.15,"k":"e"},{"c":5,"t":8.15,"b":7.77,"k":"d"},{"c":5,"t":7.77,"b":7.23,"k":"e"},{"c":5,"t":7.23,"b":7.11,"k":"d"},{"c":5,"t":7.11,"b":6.91,"k":"e"},{"c":5,"t":6.91,"b":6.61,"k":"e"},{"c":5,"t":6.61,"b":6.05,"k":"d"},{"c":5,"t":6.05,"b":5.53,"k":"c"},{"c":5,"t":5.53,"b":5.22,"k":"b"},{"c":5,"t":5.22,"b":4.81,"k":"c"},{"c":5,"t":4.81,"b":4.54,"k":"d"},{"c":5,"t":4.54,"b":4.48,"k":"e"},{"c":5,"t":4.48,"b":4.18,"k":"d"},{"c":5,"t":4.18,"b":3.75,"k":"e"},{"c":5,"t":3.75,"b":3.69,"k":"d"},{"c":5,"t":3.69,"b":3.23,"k":"c"},{"c":5,"t":3.23,"b":3.09,"k":"b"},{"c":5,"t":3.09,"b":2.84,"k":"a"},
{"c":6,"t":10.58,"b":10.32,"k":"a"},{"c":6,"t":10.32,"b":10.1,"k":"b"},{"c":6,"t":10.1,"b":9.84,"k":"a"},{"c":6,"t":9.84,"b":9.38,"k":"b"},{"c":6,"t":9.38,"b":8.98,"k":"c"},{"c":6,"t":8.98,"b":8.16,"k":"d"},{"c":6,"t":8.16,"b":8.02,"k":"e"},{"c":6,"t":8.02,"b":7.95,"k":"d"},{"c":6,"t":7.95,"b":7.72,"k":"c"},{"c":6,"t":7.72,"b":7.49,"k":"d"},{"c":6,"t":7.49,"b":7.41,"k":"e"},{"c":6,"t":7.41,"b":7.2,"k":"d"},{"c":6,"t":7.2,"b":6.54,"k":"e"},{"c":6,"t":6.54,"b":6.25,"k":"d"},{"c":6,"t":6.25,"b":6.08,"k":"e"},{"c":6,"t":6.08,"b":5.57,"k":"d"},{"c":6,"t":5.57,"b":4.78,"k":"c"},{"c":6,"t":4.78,"b":4.71,"k":"d"},{"c":6,"t":4.71,"b":4.64,"k":"c"},{"c":6,"t":4.64,"b":4.5,"k":"d"},{"c":6,"t":4.5,"b":4.35,"k":"c"},{"c":6,"t":4.35,"b":4.18,"k":"e"},{"c":6,"t":4.18,"b":3.56,"k":"d"},{"c":6,"t":3.56,"b":3.25,"k":"c"},{"c":6,"t":3.25,"b":3.2,"k":"d"},{"c":6,"t":3.2,"b":2.92,"k":"c"},{"c":6,"t":2.92,"b":2.77,"k":"a"},
{"c":7,"t":10.62,"b":10.53,"k":"a"},{"c":7,"t":10.5,"b":10.39,"k":"a"},{"c":7,"t":10.39,"b":10.17,"k":"c"},{"c":7,"t":10.17,"b":10.07,"k":"a"},{"c":7,"t":10.07,"b":10.0,"k":"c"},{"c":7,"t":10.0,"b":9.84,"k":"a"},{"c":7,"t":9.84,"b":9.41,"k":"b"},{"c":7,"t":9.41,"b":9.02,"k":"c"},{"c":7,"t":9.02,"b":8.92,"k":"d"},{"c":7,"t":8.92,"b":8.66,"k":"c"},{"c":7,"t":8.66,"b":8.02,"k":"d"},{"c":7,"t":8.02,"b":7.59,"k":"c"},{"c":7,"t":7.59,"b":7.33,"k":"d"},{"c":7,"t":7.33,"b":7.26,"k":"e"},{"c":7,"t":7.26,"b":7.05,"k":"d"},{"c":7,"t":7.05,"b":7.01,"k":"e"},{"c":7,"t":7.01,"b":6.72,"k":"d"},{"c":7,"t":6.72,"b":6.51,"k":"e"},{"c":7,"t":6.51,"b":6.44,"k":"d"},{"c":7,"t":6.44,"b":6.26,"k":"e"},{"c":7,"t":6.26,"b":6.0,"k":"d"},{"c":7,"t":6.0,"b":5.82,"k":"c"},{"c":7,"t":5.82,"b":5.62,"k":"d"},{"c":7,"t":5.62,"b":4.81,"k":"c"},{"c":7,"t":4.81,"b":4.57,"k":"d"},{"c":7,"t":4.57,"b":4.14,"k":"d"},{"c":7,"t":4.14,"b":3.85,"k":"c"},{"c":7,"t":3.85,"b":3.63,"k":"d"},{"c":7,"t":3.63,"b":3.28,"k":"c"},{"c":7,"t":3.28,"b":2.99,"k":"d"},{"c":7,"t":2.99,"b":2.7,"k":"c"},
{"c":8,"t":10.27,"b":9.89,"k":"a"},{"c":8,"t":9.89,"b":9.41,"k":"b"},{"c":8,"t":9.41,"b":8.45,"k":"c"},{"c":8,"t":8.45,"b":7.86,"k":"d"},{"c":8,"t":7.86,"b":7.73,"k":"c"},{"c":8,"t":7.73,"b":7.54,"k":"d"},{"c":8,"t":7.54,"b":7.26,"k":"e"},{"c":8,"t":7.26,"b":6.85,"k":"d"},{"c":8,"t":6.85,"b":6.77,"k":"e"},{"c":8,"t":6.77,"b":6.58,"k":"d"},{"c":8,"t":6.58,"b":6.08,"k":"e"},{"c":8,"t":6.08,"b":5.53,"k":"d"},{"c":8,"t":5.53,"b":5.24,"k":"b"},{"c":8,"t":5.24,"b":4.76,"k":"c"},{"c":8,"t":4.76,"b":4.57,"k":"d"},{"c":8,"t":4.57,"b":4.28,"k":"e"},{"c":8,"t":4.28,"b":4.09,"k":"d"},{"c":8,"t":4.09,"b":3.88,"k":"e"},{"c":8,"t":3.88,"b":3.13,"k":"d"},{"c":8,"t":3.09,"b":2.89,"k":"a"},
{"c":9,"t":10.22,"b":9.77,"k":"a"},{"c":9,"t":9.77,"b":9.6,"k":"c"},{"c":9,"t":9.6,"b":8.66,"k":"c"},{"c":9,"t":8.66,"b":8.45,"k":"d"},{"c":9,"t":8.45,"b":8.41,"k":"c"},{"c":9,"t":8.41,"b":8.0,"k":"d"},{"c":9,"t":8.0,"b":7.86,"k":"c"},{"c":9,"t":7.86,"b":6.91,"k":"d"},{"c":9,"t":6.91,"b":6.61,"k":"e"},{"c":9,"t":6.61,"b":6.44,"k":"d"},{"c":9,"t":6.44,"b":6.22,"k":"e"},{"c":9,"t":6.22,"b":5.96,"k":"d"},{"c":9,"t":5.96,"b":5.86,"k":"e"},{"c":9,"t":5.86,"b":5.65,"k":"d"},{"c":9,"t":5.65,"b":4.78,"k":"c"},{"c":9,"t":4.78,"b":4.57,"k":"d"},{"c":9,"t":4.57,"b":4.14,"k":"e"},{"c":9,"t":4.14,"b":3.88,"k":"d"},{"c":9,"t":3.88,"b":3.84,"k":"e"},{"c":9,"t":3.84,"b":3.56,"k":"d"},{"c":9,"t":3.56,"b":3.35,"k":"c"},{"c":9,"t":3.35,"b":2.99,"k":"b"},{"c":9,"t":2.99,"b":2.8,"k":"a"},
{"c":10,"t":10.39,"b":10.35,"k":"a"},{"c":10,"t":10.35,"b":10.27,"k":"c"},{"c":10,"t":10.27,"b":9.89,"k":"a"},{"c":10,"t":9.89,"b":9.64,"k":"b"},{"c":10,"t":9.64,"b":9.12,"k":"c"},{"c":10,"t":9.12,"b":8.84,"k":"b"},{"c":10,"t":8.84,"b":8.76,"k":"d"},{"c":10,"t":8.76,"b":8.26,"k":"c"},{"c":10,"t":8.26,"b":8.19,"k":"d"},{"c":10,"t":8.19,"b":7.83,"k":"c"},{"c":10,"t":7.83,"b":7.69,"k":"d"},{"c":10,"t":7.69,"b":7.23,"k":"c"},{"c":10,"t":7.23,"b":7.08,"k":"d"},{"c":10,"t":7.08,"b":6.39,"k":"e"},{"c":10,"t":6.39,"b":5.96,"k":"d"},{"c":10,"t":5.96,"b":4.89,"k":"c"},{"c":10,"t":4.89,"b":4.6,"k":"d"},{"c":10,"t":4.6,"b":4.48,"k":"f"},{"c":10,"t":4.48,"b":4.24,"k":"e"},{"c":10,"t":4.24,"b":3.78,"k":"d"},{"c":10,"t":3.78,"b":3.68,"k":"e"},{"c":10,"t":3.68,"b":3.38,"k":"c"},{"c":10,"t":3.38,"b":3.09,"k":"b"},{"c":10,"t":3.09,"b":3.02,"k":"d"},{"c":10,"t":3.02,"b":2.74,"k":"b"},{"c":10,"t":2.74,"b":2.67,"k":"a"},
{"c":11,"t":10.27,"b":10.22,"k":"a"},{"c":11,"t":10.1,"b":9.89,"k":"a"},{"c":11,"t":9.89,"b":9.53,"k":"b"},{"c":11,"t":9.53,"b":9.05,"k":"c"},{"c":11,"t":9.05,"b":8.92,"k":"d"},{"c":11,"t":8.92,"b":8.59,"k":"c"},{"c":11,"t":8.59,"b":8.38,"k":"d"},{"c":11,"t":8.38,"b":8.3,"k":"c"},{"c":11,"t":8.3,"b":8.09,"k":"d"},{"c":11,"t":8.09,"b":7.95,"k":"e"},{"c":11,"t":7.95,"b":7.8,"k":"d"},{"c":11,"t":7.8,"b":7.76,"k":"e"},{"c":11,"t":7.76,"b":7.41,"k":"d"},{"c":11,"t":7.41,"b":6.25,"k":"e"},{"c":11,"t":6.25,"b":5.93,"k":"d"},{"c":11,"t":5.93,"b":5.53,"k":"c"},{"c":11,"t":5.53,"b":5.07,"k":"b"},{"c":11,"t":5.07,"b":4.86,"k":"c"},{"c":11,"t":4.86,"b":4.67,"k":"d"},{"c":11,"t":4.67,"b":4.1,"k":"e"},{"c":11,"t":4.1,"b":3.56,"k":"d"},{"c":11,"t":3.56,"b":3.42,"k":"c"},{"c":11,"t":3.42,"b":3.13,"k":"b"},{"c":11,"t":3.13,"b":2.99,"k":"a"},
{"c":12,"t":10.17,"b":10.07,"k":"a"},{"c":12,"t":9.96,"b":9.89,"k":"a"},{"c":12,"t":9.89,"b":9.56,"k":"b"},{"c":12,"t":9.56,"b":9.07,"k":"c"},{"c":12,"t":9.07,"b":8.49,"k":"d"},{"c":12,"t":8.49,"b":8.35,"k":"e"},{"c":12,"t":8.35,"b":8.26,"k":"d"},{"c":12,"t":8.26,"b":8.09,"k":"e"},{"c":12,"t":8.09,"b":8.02,"k":"d"},{"c":12,"t":8.02,"b":6.94,"k":"e"},{"c":12,"t":6.94,"b":6.72,"k":"d"},{"c":12,"t":6.72,"b":6.51,"k":"e"},{"c":12,"t":6.51,"b":6.25,"k":"d"},{"c":12,"t":6.25,"b":6.19,"k":"c"},{"c":12,"t":6.19,"b":5.96,"k":"d"},{"c":12,"t":5.96,"b":5.76,"k":"c"},{"c":12,"t":5.76,"b":5.47,"k":"b"},{"c":12,"t":5.47,"b":5.36,"k":"a"},{"c":12,"t":5.36,"b":5.29,"k":"b"},{"c":12,"t":5.29,"b":5.22,"k":"a"},{"c":12,"t":5.22,"b":5.0,"k":"b"},{"c":12,"t":5.0,"b":4.78,"k":"d"},{"c":12,"t":4.78,"b":3.99,"k":"e"},{"c":12,"t":3.99,"b":3.92,"k":"d"},{"c":12,"t":3.92,"b":3.71,"k":"e"},{"c":12,"t":3.71,"b":3.52,"k":"d"},{"c":12,"t":3.52,"b":3.32,"k":"c"},{"c":12,"t":3.32,"b":3.18,"k":"b"},{"c":12,"t":3.18,"b":2.97,"k":"a"},
{"c":13,"t":10.58,"b":10.5,"k":"a"},{"c":13,"t":10.35,"b":10.25,"k":"a"},{"c":13,"t":10.25,"b":10.19,"k":"c"},{"c":13,"t":10.19,"b":9.84,"k":"a"},{"c":13,"t":9.84,"b":9.74,"k":"b"},{"c":13,"t":9.74,"b":9.45,"k":"c"},{"c":13,"t":9.45,"b":9.35,"k":"b"},{"c":13,"t":9.35,"b":8.74,"k":"c"},{"c":13,"t":8.74,"b":8.23,"k":"d"},{"c":13,"t":8.23,"b":8.19,"k":"c"},{"c":13,"t":8.19,"b":7.97,"k":"d"},{"c":13,"t":7.97,"b":7.93,"k":"e"},{"c":13,"t":7.93,"b":6.98,"k":"d"},{"c":13,"t":6.98,"b":6.7,"k":"e"},{"c":13,"t":6.7,"b":6.34,"k":"d"},{"c":13,"t":6.34,"b":6.25,"k":"c"},{"c":13,"t":6.25,"b":6.08,"k":"d"},{"c":13,"t":6.08,"b":5.5,"k":"c"},{"c":13,"t":5.5,"b":5.47,"k":"b"},{"c":13,"t":5.47,"b":5.24,"k":"c"},{"c":13,"t":5.24,"b":5.04,"k":"b"},{"c":13,"t":5.04,"b":4.67,"k":"c"},{"c":13,"t":4.67,"b":4.4,"k":"d"},{"c":13,"t":4.4,"b":4.31,"k":"c"},{"c":13,"t":4.31,"b":4.07,"k":"d"},{"c":13,"t":4.07,"b":3.97,"k":"e"},{"c":13,"t":3.97,"b":3.61,"k":"d"},{"c":13,"t":3.61,"b":3.09,"k":"c"},{"c":13,"t":3.09,"b":3.03,"k":"d"},{"c":13,"t":3.03,"b":2.84,"k":"c"},{"c":13,"t":2.84,"b":2.74,"k":"b"},{"c":13,"t":2.74,"b":2.66,"k":"a"},
{"c":14,"t":10.48,"b":10.36,"k":"a"},{"c":14,"t":10.25,"b":9.81,"k":"a"},{"c":14,"t":9.81,"b":9.42,"k":"c"},{"c":14,"t":9.42,"b":9.31,"k":"b"},{"c":14,"t":9.31,"b":8.66,"k":"c"},{"c":14,"t":8.66,"b":7.43,"k":"d"},{"c":14,"t":7.43,"b":7.37,"k":"e"},{"c":14,"t":7.37,"b":7.04,"k":"d"},{"c":14,"t":7.04,"b":6.98,"k":"e"},{"c":14,"t":6.98,"b":5.96,"k":"d"},{"c":14,"t":5.96,"b":5.62,"k":"c"},{"c":14,"t":5.62,"b":5.07,"k":"b"},{"c":14,"t":5.07,"b":4.89,"k":"c"},{"c":14,"t":4.89,"b":4.43,"k":"d"},{"c":14,"t":4.43,"b":4.38,"k":"c"},{"c":14,"t":4.38,"b":4.07,"k":"d"},{"c":14,"t":4.07,"b":3.89,"k":"e"},{"c":14,"t":3.89,"b":3.85,"k":"d"},{"c":14,"t":3.85,"b":3.71,"k":"e"},{"c":14,"t":3.71,"b":3.32,"k":"d"},{"c":14,"t":3.32,"b":2.99,"k":"c"},{"c":14,"t":2.99,"b":2.74,"k":"a"},
{"c":15,"t":10.13,"b":9.96,"k":"a"},{"c":15,"t":9.91,"b":9.81,"k":"a"},{"c":15,"t":9.81,"b":9.41,"k":"b"},{"c":15,"t":9.41,"b":9.07,"k":"c"},{"c":15,"t":9.07,"b":8.84,"k":"d"},{"c":15,"t":8.84,"b":8.64,"k":"c"},{"c":15,"t":8.64,"b":8.38,"k":"d"},{"c":15,"t":8.38,"b":8.09,"k":"e"},{"c":15,"t":8.09,"b":7.99,"k":"d"},{"c":15,"t":7.99,"b":7.51,"k":"e"},{"c":15,"t":7.51,"b":7.44,"k":"d"},{"c":15,"t":7.44,"b":7.08,"k":"e"},{"c":15,"t":7.08,"b":7.03,"k":"f"},{"c":15,"t":7.03,"b":6.57,"k":"e"},{"c":15,"t":6.57,"b":6.08,"k":"d"},{"c":15,"t":6.08,"b":5.69,"k":"c"},{"c":15,"t":5.69,"b":5.47,"k":"b"},{"c":15,"t":5.47,"b":5.33,"k":"a"},{"c":15,"t":5.33,"b":4.93,"k":"c"},{"c":15,"t":4.93,"b":4.64,"k":"d"},{"c":15,"t":4.64,"b":4.44,"k":"e"},{"c":15,"t":4.44,"b":4.35,"k":"f"},{"c":15,"t":4.35,"b":4.15,"k":"e"},{"c":15,"t":4.15,"b":4.05,"k":"f"},{"c":15,"t":4.05,"b":3.78,"k":"e"},{"c":15,"t":3.78,"b":3.63,"k":"d"},{"c":15,"t":3.63,"b":3.38,"k":"c"},{"c":15,"t":3.38,"b":3.23,"k":"b"},{"c":15,"t":3.23,"b":2.92,"k":"a"},
{"c":16,"t":10.48,"b":10.3,"k":"a"},{"c":16,"t":10.25,"b":10.19,"k":"a"},{"c":16,"t":10.19,"b":10.04,"k":"b"},{"c":16,"t":10.04,"b":9.79,"k":"a"},{"c":16,"t":9.79,"b":9.53,"k":"b"},{"c":16,"t":9.53,"b":9.24,"k":"b"},{"c":16,"t":9.24,"b":8.55,"k":"c"},{"c":16,"t":8.55,"b":8.02,"k":"d"},{"c":16,"t":8.02,"b":7.98,"k":"e"},{"c":16,"t":7.98,"b":7.72,"k":"d"},{"c":16,"t":7.72,"b":7.66,"k":"e"},{"c":16,"t":7.66,"b":6.98,"k":"d"},{"c":16,"t":6.98,"b":6.61,"k":"e"},{"c":16,"t":6.61,"b":6.08,"k":"d"},{"c":16,"t":6.08,"b":4.78,"k":"c"},{"c":16,"t":4.78,"b":4.61,"k":"d"},{"c":16,"t":4.61,"b":4.5,"k":"e"},{"c":16,"t":4.5,"b":4.24,"k":"d"},{"c":16,"t":4.24,"b":3.74,"k":"e"},{"c":16,"t":3.74,"b":3.3,"k":"d"},{"c":16,"t":3.3,"b":3.25,"k":"c"},{"c":16,"t":3.25,"b":2.92,"k":"b"},{"c":16,"t":2.92,"b":2.8,"k":"a"},
{"c":17,"t":10.65,"b":10.48,"k":"a"},{"c":17,"t":10.42,"b":10.32,"k":"a"},{"c":17,"t":10.32,"b":10.13,"k":"b"},{"c":17,"t":10.13,"b":10.03,"k":"a"},{"c":17,"t":10.03,"b":9.84,"k":"c"},{"c":17,"t":9.84,"b":9.6,"k":"b"},{"c":17,"t":9.6,"b":9.53,"k":"c"},{"c":17,"t":9.53,"b":9.12,"k":"b"},{"c":17,"t":9.12,"b":8.64,"k":"c"},{"c":17,"t":8.64,"b":7.08,"k":"d"},{"c":17,"t":7.08,"b":6.87,"k":"e"},{"c":17,"t":6.87,"b":6.75,"k":"d"},{"c":17,"t":6.75,"b":6.65,"k":"e"},{"c":17,"t":6.65,"b":6.0,"k":"d"},{"c":17,"t":6.0,"b":5.93,"k":"c"},{"c":17,"t":5.93,"b":5.03,"k":"c"},{"c":17,"t":5.03,"b":5.0,"k":"d"},{"c":17,"t":5.0,"b":4.64,"k":"c"},{"c":17,"t":4.64,"b":4.47,"k":"d"},{"c":17,"t":4.47,"b":4.35,"k":"c"},{"c":17,"t":4.35,"b":4.21,"k":"e"},{"c":17,"t":4.21,"b":4.17,"k":"d"},{"c":17,"t":4.17,"b":3.78,"k":"e"},{"c":17,"t":3.78,"b":3.71,"k":"d"},{"c":17,"t":3.71,"b":3.63,"k":"e"},{"c":17,"t":3.63,"b":3.46,"k":"d"},{"c":17,"t":3.46,"b":3.4,"k":"c"},{"c":17,"t":3.4,"b":3.0,"k":"d"},{"c":17,"t":3.0,"b":2.8,"k":"c"},{"c":17,"t":2.8,"b":2.66,"k":"a"},
{"c":18,"t":9.89,"b":9.45,"k":"a"},{"c":18,"t":9.45,"b":9.07,"k":"b"},{"c":18,"t":9.07,"b":8.84,"k":"c"},{"c":18,"t":8.84,"b":8.69,"k":"b"},{"c":18,"t":8.69,"b":8.09,"k":"c"},{"c":18,"t":8.09,"b":6.68,"k":"d"},{"c":18,"t":6.68,"b":6.44,"k":"e"},{"c":18,"t":6.44,"b":6.37,"k":"d"},{"c":18,"t":6.37,"b":6.28,"k":"e"},{"c":18,"t":6.28,"b":6.19,"k":"d"},{"c":18,"t":6.19,"b":6.08,"k":"e"},{"c":18,"t":6.08,"b":5.62,"k":"d"},{"c":18,"t":5.62,"b":5.29,"k":"c"},{"c":18,"t":5.29,"b":5.14,"k":"b"},{"c":18,"t":5.14,"b":4.89,"k":"c"},{"c":18,"t":4.89,"b":4.68,"k":"d"},{"c":18,"t":4.68,"b":4.35,"k":"e"},{"c":18,"t":4.35,"b":3.78,"k":"f"},{"c":18,"t":3.78,"b":3.63,"k":"e"},{"c":18,"t":3.63,"b":3.49,"k":"f"},{"c":18,"t":3.49,"b":3.35,"k":"g"},{"c":18,"t":3.35,"b":3.23,"k":"e"},{"c":18,"t":3.23,"b":3.09,"k":"d"},{"c":18,"t":3.09,"b":2.89,"k":"c"},{"c":18,"t":2.89,"b":2.77,"k":"a"},
{"c":19,"t":8.16,"b":6.08,"k":"a"},{"c":19,"t":6.08,"b":5.79,"k":"b"},{"c":19,"t":5.79,"b":5.19,"k":"c"},{"c":19,"t":5.04,"b":4.81,"k":"a"},{"c":19,"t":4.81,"b":4.45,"k":"b"},{"c":19,"t":4.45,"b":3.88,"k":"c"},{"c":19,"t":3.88,"b":3.66,"k":"d"},{"c":19,"t":3.66,"b":3.39,"k":"e"},{"c":19,"t":3.39,"b":3.28,"k":"f"},{"c":19,"t":3.28,"b":3.09,"k":"g"},{"c":19,"t":3.09,"b":2.49,"k":"r"},{"c":19,"t":2.49,"b":2.27,"k":"g"},{"c":19,"t":2.27,"b":2.2,"k":"f"},{"c":19,"t":2.2,"b":2.1,"k":"c"},
{"c":20,"t":0.67,"b":0.47,"k":"a"},{"c":20,"t":0.47,"b":0.33,"k":"c"},{"c":20,"t":0.33,"b":0.21,"k":"f"},{"c":20,"t":0.21,"b":0,"k":"r"},
{"c":21,"t":5.82,"b":5.07,"k":"a"},{"c":21,"t":5.07,"b":5.0,"k":"c"},{"c":21,"t":5.0,"b":4.78,"k":"a"},{"c":21,"t":4.14,"b":3.17,"k":"a"},{"c":21,"t":3.17,"b":3.09,"k":"c"},{"c":21,"t":3.09,"b":2.41,"k":"a"},{"c":21,"t":2.41,"b":2.27,"k":"c"},{"c":21,"t":2.27,"b":2.17,"k":"e"},{"c":21,"t":2.17,"b":1.71,"k":"r"},{"c":21,"t":1.71,"b":1.63,"k":"f"},{"c":21,"t":1.63,"b":1.48,"k":"c"},{"c":21,"t":1.48,"b":1.31,"k":"a"},
{"c":22,"t":9.1,"b":7.23,"k":"a"},{"c":22,"t":7.23,"b":6.22,"k":"b"},{"c":22,"t":6.22,"b":5.91,"k":"c"},{"c":22,"t":5.91,"b":5.62,"k":"d"},{"c":22,"t":5.62,"b":5.42,"k":"e"},{"c":22,"t":5.42,"b":5.33,"k":"d"},{"c":22,"t":5.33,"b":4.61,"k":"c"},{"c":22,"t":4.61,"b":4.45,"k":"d"},{"c":22,"t":4.45,"b":4.1,"k":"e"},{"c":22,"t":4.1,"b":3.89,"k":"f"},{"c":22,"t":3.89,"b":3.63,"k":"g"},{"c":22,"t":3.63,"b":3.45,"k":"h"},{"c":22,"t":3.45,"b":2.83,"k":"r"},{"c":22,"t":2.83,"b":2.66,"k":"c"},{"c":22,"t":2.66,"b":2.57,"k":"a"},
{"c":23,"t":9.7,"b":9.24,"k":"a"},{"c":23,"t":9.24,"b":8.35,"k":"b"},{"c":23,"t":8.35,"b":8.02,"k":"c"},{"c":23,"t":8.02,"b":6.94,"k":"d"},{"c":23,"t":6.94,"b":6.25,"k":"e"},{"c":23,"t":6.25,"b":6.08,"k":"f"},{"c":23,"t":6.08,"b":5.79,"k":"e"},{"c":23,"t":5.79,"b":5.56,"k":"d"},{"c":23,"t":5.56,"b":5.4,"k":"a"},{"c":23,"t":5.4,"b":5.0,"k":"b"},{"c":23,"t":4.96,"b":4.71,"k":"e"},{"c":23,"t":4.71,"b":4.61,"k":"f"},{"c":23,"t":4.61,"b":4.5,"k":"e"},{"c":23,"t":4.5,"b":3.85,"k":"g"},{"c":23,"t":3.85,"b":3.63,"k":"f"},{"c":23,"t":3.63,"b":3.35,"k":"h"},{"c":23,"t":3.35,"b":3.2,"k":"d"},{"c":23,"t":3.2,"b":3.02,"k":"c"},
{"c":24,"t":10.0,"b":9.86,"k":"a"},{"c":24,"t":9.81,"b":9.67,"k":"a"},{"c":24,"t":9.67,"b":9.48,"k":"b"},{"c":24,"t":9.48,"b":9.38,"k":"a"},{"c":24,"t":9.38,"b":8.91,"k":"c"},{"c":24,"t":8.91,"b":8.66,"k":"d"},{"c":24,"t":8.66,"b":8.48,"k":"c"},{"c":24,"t":8.48,"b":8.2,"k":"d"},{"c":24,"t":8.2,"b":8.09,"k":"e"},{"c":24,"t":8.09,"b":7.89,"k":"d"},{"c":24,"t":7.89,"b":6.65,"k":"e"},{"c":24,"t":6.65,"b":5.93,"k":"d"},{"c":24,"t":5.93,"b":5.57,"k":"c"},{"c":24,"t":5.53,"b":5.36,"k":"a"},{"c":24,"t":5.36,"b":4.86,"k":"c"},{"c":24,"t":4.86,"b":4.42,"k":"e"},{"c":24,"t":4.42,"b":3.97,"k":"f"},{"c":24,"t":3.97,"b":3.56,"k":"e"},{"c":24,"t":3.56,"b":3.35,"k":"d"},{"c":24,"t":3.35,"b":3.23,"k":"c"},{"c":24,"t":3.23,"b":3.02,"k":"a"},
{"c":25,"t":10.25,"b":9.99,"k":"a"},{"c":25,"t":9.99,"b":9.45,"k":"b"},{"c":25,"t":9.45,"b":8.64,"k":"c"},{"c":25,"t":8.64,"b":8.16,"k":"d"},{"c":25,"t":8.16,"b":8.09,"k":"c"},{"c":25,"t":8.09,"b":7.8,"k":"d"},{"c":25,"t":7.8,"b":7.37,"k":"e"},{"c":25,"t":7.37,"b":7.14,"k":"d"},{"c":25,"t":7.14,"b":6.97,"k":"e"},{"c":25,"t":6.97,"b":6.77,"k":"d"},{"c":25,"t":6.77,"b":6.62,"k":"e"},{"c":25,"t":6.62,"b":6.47,"k":"d"},{"c":25,"t":6.47,"b":6.34,"k":"e"},{"c":25,"t":6.34,"b":6.0,"k":"d"},{"c":25,"t":6.0,"b":5.53,"k":"c"},{"c":25,"t":5.53,"b":5.14,"k":"b"},{"c":25,"t":5.14,"b":4.78,"k":"c"},{"c":25,"t":4.78,"b":4.38,"k":"d"},{"c":25,"t":4.38,"b":4.18,"k":"f"},{"c":25,"t":4.18,"b":3.99,"k":"e"},{"c":25,"t":3.99,"b":3.78,"k":"d"},{"c":25,"t":3.78,"b":3.52,"k":"e"},{"c":25,"t":3.52,"b":3.32,"k":"d"},{"c":25,"t":3.32,"b":3.09,"k":"c"},
{"c":26,"t":10.56,"b":10.39,"k":"a"},{"c":26,"t":10.39,"b":10.17,"k":"c"},{"c":26,"t":10.17,"b":9.86,"k":"a"},{"c":26,"t":9.86,"b":9.53,"k":"b"},{"c":26,"t":9.53,"b":9.1,"k":"c"},{"c":26,"t":9.1,"b":9.02,"k":"b"},{"c":26,"t":9.02,"b":8.4,"k":"c"},{"c":26,"t":8.4,"b":8.26,"k":"d"},{"c":26,"t":8.26,"b":7.8,"k":"c"},{"c":26,"t":7.8,"b":7.3,"k":"d"},{"c":26,"t":7.3,"b":7.2,"k":"c"},{"c":26,"t":7.2,"b":6.65,"k":"d"},{"c":26,"t":6.65,"b":6.51,"k":"e"},{"c":26,"t":6.51,"b":6.05,"k":"d"},{"c":26,"t":6.05,"b":5.0,"k":"c"},{"c":26,"t":5.0,"b":4.86,"k":"d"},{"c":26,"t":4.86,"b":4.57,"k":"c"},{"c":26,"t":4.57,"b":4.35,"k":"d"},{"c":26,"t":4.35,"b":4.21,"k":"e"},{"c":26,"t":4.21,"b":3.92,"k":"d"},{"c":26,"t":3.92,"b":3.56,"k":"e"},{"c":26,"t":3.56,"b":2.8,"k":"c"},{"c":26,"t":2.8,"b":2.7,"k":"a"},
{"c":27,"t":10.62,"b":10.5,"k":"a"},{"c":27,"t":10.5,"b":10.39,"k":"a"},{"c":27,"t":10.39,"b":10.19,"k":"c"},{"c":27,"t":10.19,"b":10.07,"k":"a"},{"c":27,"t":10.07,"b":9.96,"k":"c"},{"c":27,"t":9.96,"b":9.64,"k":"a"},{"c":27,"t":9.64,"b":9.56,"k":"b"},{"c":27,"t":9.56,"b":9.1,"k":"c"},{"c":27,"t":9.1,"b":9.02,"k":"b"},{"c":27,"t":9.02,"b":8.38,"k":"c"},{"c":27,"t":8.38,"b":8.26,"k":"d"},{"c":27,"t":8.26,"b":7.73,"k":"c"},{"c":27,"t":7.73,"b":7.63,"k":"b"},{"c":27,"t":7.63,"b":7.05,"k":"d"},{"c":27,"t":7.05,"b":6.82,"k":"e"},{"c":27,"t":6.82,"b":6.72,"k":"d"},{"c":27,"t":6.72,"b":6.54,"k":"e"},{"c":27,"t":6.54,"b":6.34,"k":"d"},{"c":27,"t":6.34,"b":6.25,"k":"c"},{"c":27,"t":6.25,"b":6.08,"k":"d"},{"c":27,"t":6.08,"b":5.47,"k":"c"},{"c":27,"t":5.47,"b":5.39,"k":"b"},{"c":27,"t":5.39,"b":5.04,"k":"c"},{"c":27,"t":5.04,"b":4.9,"k":"d"},{"c":27,"t":4.9,"b":4.83,"k":"c"},{"c":27,"t":4.83,"b":4.67,"k":"d"},{"c":27,"t":4.67,"b":4.57,"k":"c"},{"c":27,"t":4.57,"b":4.43,"k":"d"},{"c":27,"t":4.43,"b":4.28,"k":"c"},{"c":27,"t":4.28,"b":3.95,"k":"d"},{"c":27,"t":3.95,"b":3.84,"k":"e"},{"c":27,"t":3.84,"b":3.56,"k":"d"},{"c":27,"t":3.56,"b":2.7,"k":"c"},
{"c":28,"t":10.35,"b":10.25,"k":"a"},{"c":28,"t":10.25,"b":10.1,"k":"a"},{"c":28,"t":10.1,"b":9.57,"k":"b"},{"c":28,"t":9.57,"b":8.59,"k":"c"},{"c":28,"t":8.59,"b":8.55,"k":"d"},{"c":28,"t":8.55,"b":8.38,"k":"c"},{"c":28,"t":8.38,"b":7.73,"k":"d"},{"c":28,"t":7.73,"b":6.65,"k":"e"},{"c":28,"t":6.65,"b":6.22,"k":"d"},{"c":28,"t":6.22,"b":5.42,"k":"c"},{"c":28,"t":5.42,"b":5.19,"k":"b"},{"c":28,"t":5.19,"b":4.81,"k":"c"},{"c":28,"t":4.81,"b":4.43,"k":"d"},{"c":28,"t":4.43,"b":4.18,"k":"e"},{"c":28,"t":4.18,"b":4.14,"k":"d"},{"c":28,"t":4.14,"b":3.78,"k":"e"},{"c":28,"t":3.78,"b":3.38,"k":"d"},{"c":28,"t":3.38,"b":3.16,"k":"c"},{"c":28,"t":3.16,"b":2.84,"k":"a"},
{"c":29,"t":10.03,"b":9.93,"k":"a"},{"c":29,"t":9.89,"b":9.79,"k":"a"},{"c":29,"t":9.79,"b":9.41,"k":"b"},{"c":29,"t":9.41,"b":9.1,"k":"c"},{"c":29,"t":9.1,"b":8.91,"k":"d"},{"c":29,"t":8.91,"b":8.85,"k":"e"},{"c":29,"t":8.85,"b":8.55,"k":"d"},{"c":29,"t":8.55,"b":8.49,"k":"e"},{"c":29,"t":8.49,"b":8.23,"k":"d"},{"c":29,"t":8.23,"b":7.54,"k":"e"},{"c":29,"t":7.54,"b":7.44,"k":"f"},{"c":29,"t":7.44,"b":7.11,"k":"e"},{"c":29,"t":7.11,"b":7.03,"k":"f"},{"c":29,"t":7.03,"b":6.62,"k":"e"},{"c":29,"t":6.62,"b":6.57,"k":"d"},{"c":29,"t":6.57,"b":5.86,"k":"c"},{"c":29,"t":5.86,"b":5.47,"k":"b"},{"c":29,"t":5.47,"b":5.39,"k":"a"},{"c":29,"t":5.39,"b":4.96,"k":"b"},{"c":29,"t":4.96,"b":4.71,"k":"d"},{"c":29,"t":4.71,"b":4.35,"k":"e"},{"c":29,"t":4.35,"b":4.3,"k":"f"},{"c":29,"t":4.3,"b":4.18,"k":"e"},{"c":29,"t":4.18,"b":3.71,"k":"d"},{"c":29,"t":3.71,"b":3.42,"k":"c"},{"c":29,"t":3.42,"b":3.28,"k":"b"},{"c":29,"t":3.28,"b":3.09,"k":"a"},
{"c":30,"t":9.96,"b":9.89,"k":"a"},{"c":30,"t":9.84,"b":9.74,"k":"a"},{"c":30,"t":9.74,"b":9.53,"k":"b"},{"c":30,"t":9.53,"b":9.17,"k":"c"},{"c":30,"t":9.17,"b":9.1,"k":"d"},{"c":30,"t":9.1,"b":8.74,"k":"e"},{"c":30,"t":8.74,"b":8.64,"k":"d"},{"c":30,"t":8.64,"b":8.38,"k":"e"},{"c":30,"t":8.38,"b":8.02,"k":"d"},{"c":30,"t":8.02,"b":7.77,"k":"c"},{"c":30,"t":7.77,"b":7.23,"k":"f"},{"c":30,"t":7.23,"b":6.97,"k":"e"},{"c":30,"t":6.97,"b":6.87,"k":"f"},{"c":30,"t":6.87,"b":6.58,"k":"d"},{"c":30,"t":6.58,"b":6.44,"k":"c"},{"c":30,"t":6.44,"b":5.86,"k":"d"},{"c":30,"t":5.79,"b":5.68,"k":"a"},{"c":30,"t":5.68,"b":5.57,"k":"c"},{"c":30,"t":5.57,"b":5.39,"k":"a"},{"c":30,"t":5.39,"b":4.96,"k":"c"},{"c":30,"t":4.96,"b":4.71,"k":"e"},{"c":30,"t":4.71,"b":4.57,"k":"f"},{"c":30,"t":4.57,"b":4.32,"k":"g"},{"c":30,"t":4.32,"b":4.07,"k":"e"},{"c":30,"t":4.07,"b":3.85,"k":"f"},{"c":30,"t":3.85,"b":3.56,"k":"c"},{"c":30,"t":3.56,"b":3.38,"k":"b"},{"c":30,"t":3.38,"b":3.18,"k":"a"}
]},
"layer":[
{"data":{"name":"lines"},"mark":{"type":"rule","color":"#b0b0b0","strokeWidth":2},"encoding":{"x":{"field":"x","type":"quantitative","scale":{"domain":[0,3.28],"nice":false,"zero":false},"axis":{"values":[0,1,2.415,3.28],"title":"Wave vector","titleFont":"DejaVu Sans","titleFontSize":27.8,"titleFontWeight":"normal","titleColor":"black","titlePadding":11,"labelFont":"DejaVu Sans","labelFontSize":27.8,"labelColor":"black","labelPadding":7,"labelExpr":"datum.value==1?'X':datum.value>3?'L':'Γ'","labelFlush":false,"labelOverlap":false,"grid":false,"domain":false,"tickColor":"black","tickSize":10,"tickWidth":2}}}},
{"data":{"name":"cells"},"transform":[{"lookup":"c","from":{"data":{"name":"cols"},"key":"c","fields":["x0","x1"]}}],"mark":{"type":"rect","strokeWidth":0.4,"clip":true},"encoding":{"x":{"field":"x0","type":"quantitative"},"x2":{"field":"x1"},"y":{"field":"t","type":"quantitative","scale":{"domain":[0,25],"nice":false},"axis":{"values":[0,2.5,5,7.5,10,12.5,15,17.5,20,22.5,25],"format":"d","title":"Frequency (THz)","titleFont":"DejaVu Sans","titleFontSize":27.8,"titleFontWeight":"normal","titleColor":"black","titlePadding":12,"labelFont":"DejaVu Sans","labelFontSize":27.8,"labelColor":"black","labelPadding":10,"labelExpr":"datum.value%5==0?datum.label:''","grid":false,"domain":false,"tickColor":"black","tickWidth":2,"tickSize":{"condition":{"test":"datum.value%5==0","value":10},"value":6}}},"y2":{"field":"b"},"color":{"field":"k","type":"nominal","legend":null,"scale":{"domain":["a","b","c","d","e","f","g","h","r"],"range":["#a8f2a8","#37aa3c","#3a9c12","#aed825","#ffff00","#ffb300","#ff9500","#ff6a00","#ff0000"]}},"stroke":{"field":"k","type":"nominal","legend":null,"scale":{"domain":["a","b","c","d","e","f","g","h","r"],"range":["#a8f2a8","#37aa3c","#3a9c12","#aed825","#ffff00","#ffb300","#ff9500","#ff6a00","#ff0000"]}}}}
]}
